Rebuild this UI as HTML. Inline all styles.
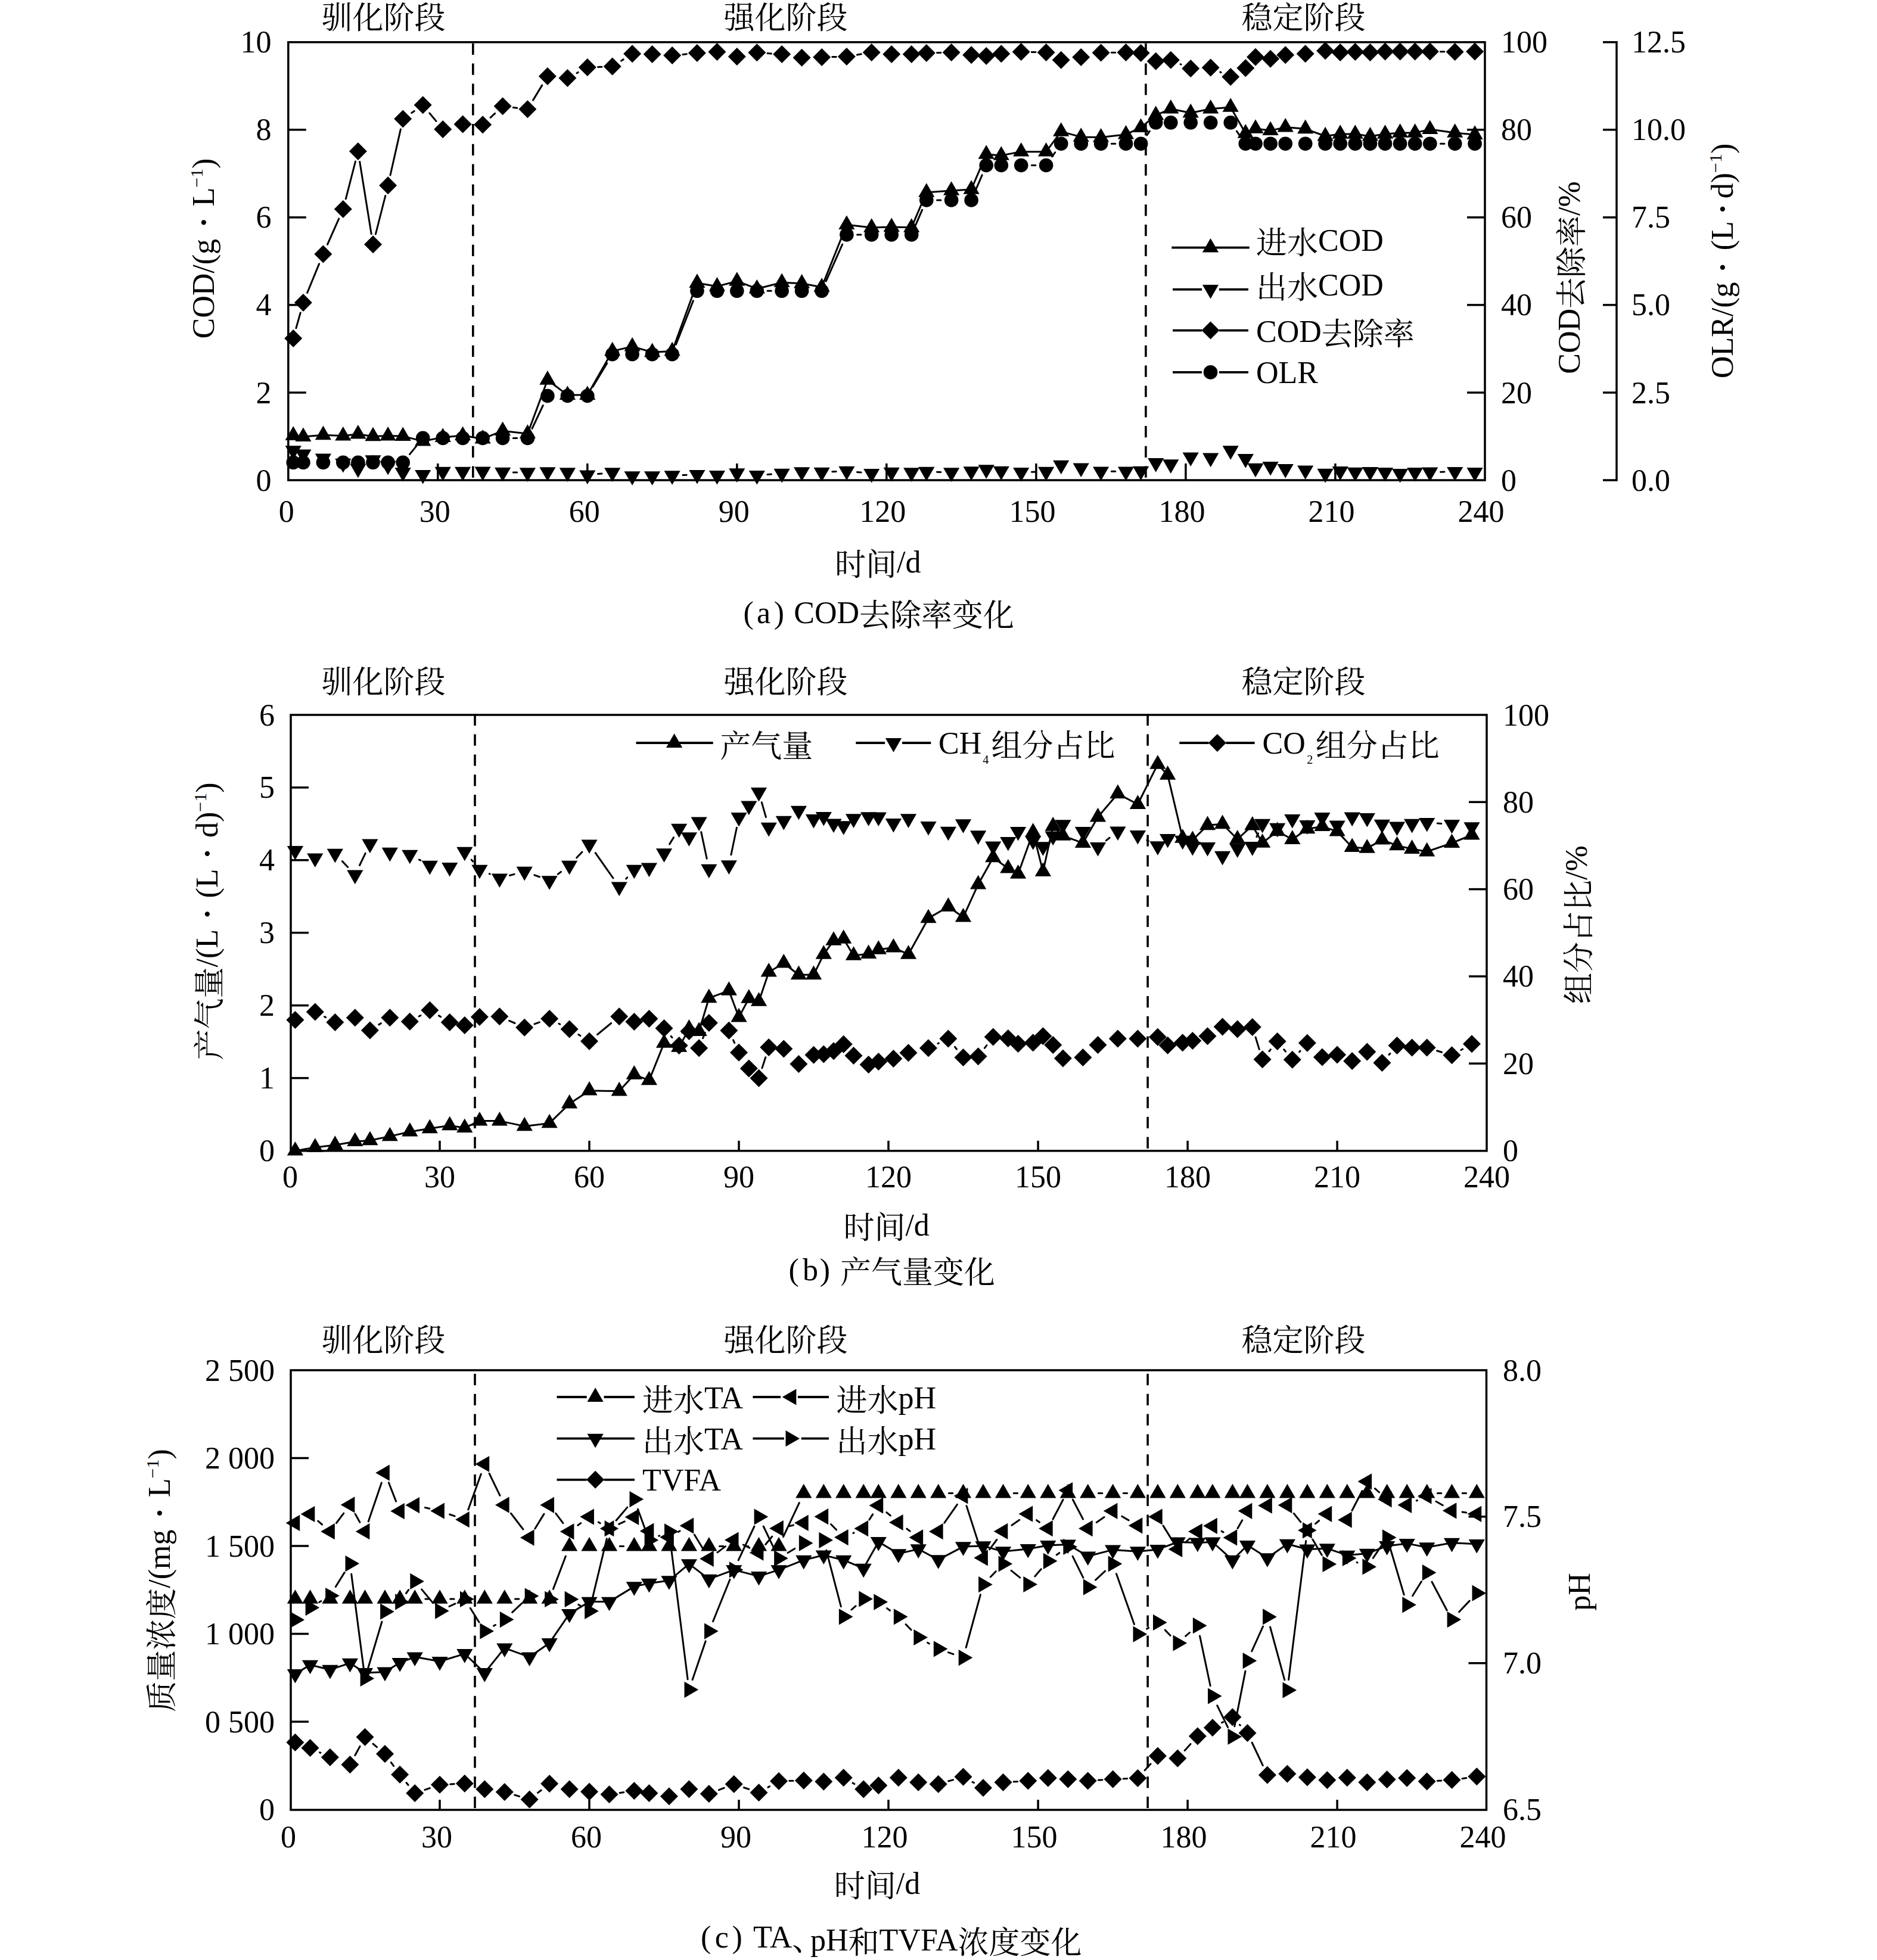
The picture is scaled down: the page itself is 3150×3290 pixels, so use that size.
<!DOCTYPE html>
<html><head><meta charset="utf-8"><title>chart</title><style>html,body{margin:0;padding:0;background:#fff;}svg{display:block;}</style></head><body>
<svg width="3150" height="3290" viewBox="0 0 3150 3290" font-family="'Liberation Serif','Noto Serif CJK SC',serif">
<rect width="3150" height="3290" fill="#fff"/>
<line x1="793.8" y1="72.8" x2="793.8" y2="806" stroke="#000" stroke-width="3.6" stroke-dasharray="19.2 14.6"/>
<line x1="1922.9" y1="72.8" x2="1922.9" y2="806" stroke="#000" stroke-width="3.6" stroke-dasharray="19.2 14.6"/>
<line x1="734.8" y1="806" x2="734.8" y2="778" stroke="#000" stroke-width="3.5"/>
<line x1="985.8" y1="806" x2="985.8" y2="778" stroke="#000" stroke-width="3.5"/>
<line x1="1236.8" y1="806" x2="1236.8" y2="778" stroke="#000" stroke-width="3.5"/>
<line x1="1487.8" y1="806" x2="1487.8" y2="778" stroke="#000" stroke-width="3.5"/>
<line x1="1738.9" y1="806" x2="1738.9" y2="778" stroke="#000" stroke-width="3.5"/>
<line x1="1989.9" y1="806" x2="1989.9" y2="778" stroke="#000" stroke-width="3.5"/>
<line x1="2240.9" y1="806" x2="2240.9" y2="778" stroke="#000" stroke-width="3.5"/>
<text x="480.8" y="875.7" text-anchor="middle" font-size="52">0</text>
<text x="729.8" y="875.7" text-anchor="middle" font-size="52">30</text>
<text x="980.8" y="875.7" text-anchor="middle" font-size="52">60</text>
<text x="1231.8" y="875.7" text-anchor="middle" font-size="52">90</text>
<text x="1481.3" y="875.7" text-anchor="middle" font-size="52">120</text>
<text x="1732.4" y="875.7" text-anchor="middle" font-size="52">150</text>
<text x="1983.4" y="875.7" text-anchor="middle" font-size="52">180</text>
<text x="2234.4" y="875.7" text-anchor="middle" font-size="52">210</text>
<text x="2485.4" y="875.7" text-anchor="middle" font-size="52">240</text>
<text x="455.5" y="823.5" text-anchor="end" font-size="52">0</text>
<line x1="483.8" y1="659" x2="513.8" y2="659" stroke="#000" stroke-width="3.5"/>
<text x="455.5" y="676.5" text-anchor="end" font-size="52">2</text>
<line x1="483.8" y1="511.9" x2="513.8" y2="511.9" stroke="#000" stroke-width="3.5"/>
<text x="455.5" y="529.4" text-anchor="end" font-size="52">4</text>
<line x1="483.8" y1="364.9" x2="513.8" y2="364.9" stroke="#000" stroke-width="3.5"/>
<text x="455.5" y="382.4" text-anchor="end" font-size="52">6</text>
<line x1="483.8" y1="217.8" x2="513.8" y2="217.8" stroke="#000" stroke-width="3.5"/>
<text x="455.5" y="235.3" text-anchor="end" font-size="52">8</text>
<text x="455.5" y="88.3" text-anchor="end" font-size="52">10</text>
<text x="2519" y="823.5" text-anchor="start" font-size="52">0</text>
<line x1="2462" y1="659" x2="2492" y2="659" stroke="#000" stroke-width="3.5"/>
<text x="2519" y="676.5" text-anchor="start" font-size="52">20</text>
<line x1="2462" y1="511.9" x2="2492" y2="511.9" stroke="#000" stroke-width="3.5"/>
<text x="2519" y="529.4" text-anchor="start" font-size="52">40</text>
<line x1="2462" y1="364.9" x2="2492" y2="364.9" stroke="#000" stroke-width="3.5"/>
<text x="2519" y="382.4" text-anchor="start" font-size="52">60</text>
<line x1="2462" y1="217.8" x2="2492" y2="217.8" stroke="#000" stroke-width="3.5"/>
<text x="2519" y="235.3" text-anchor="start" font-size="52">80</text>
<text x="2519" y="88.3" text-anchor="start" font-size="52">100</text>
<rect x="483.8" y="70.8" width="2008.2" height="735.2" fill="none" stroke="#000" stroke-width="3.5"/>
<text x="539.6" y="47.6" text-anchor="start" font-size="52">驯化阶段</text>
<text x="1214.6" y="47.6" text-anchor="start" font-size="52">强化阶段</text>
<text x="2083.4" y="47.6" text-anchor="start" font-size="52">稳定阶段</text>
<line x1="797" y1="1198.8" x2="797" y2="1931.8" stroke="#000" stroke-width="3.6" stroke-dasharray="19.2 14.6"/>
<line x1="1926.1" y1="1198.8" x2="1926.1" y2="1931.8" stroke="#000" stroke-width="3.6" stroke-dasharray="19.2 14.6"/>
<line x1="738" y1="1931.8" x2="738" y2="1914.8" stroke="#000" stroke-width="3.5"/>
<line x1="989" y1="1931.8" x2="989" y2="1914.8" stroke="#000" stroke-width="3.5"/>
<line x1="1240" y1="1931.8" x2="1240" y2="1914.8" stroke="#000" stroke-width="3.5"/>
<line x1="1491" y1="1931.8" x2="1491" y2="1914.8" stroke="#000" stroke-width="3.5"/>
<line x1="1742.1" y1="1931.8" x2="1742.1" y2="1914.8" stroke="#000" stroke-width="3.5"/>
<line x1="1993.1" y1="1931.8" x2="1993.1" y2="1914.8" stroke="#000" stroke-width="3.5"/>
<line x1="2244.1" y1="1931.8" x2="2244.1" y2="1914.8" stroke="#000" stroke-width="3.5"/>
<text x="487" y="1993" text-anchor="middle" font-size="52">0</text>
<text x="738" y="1993" text-anchor="middle" font-size="52">30</text>
<text x="989" y="1993" text-anchor="middle" font-size="52">60</text>
<text x="1240" y="1993" text-anchor="middle" font-size="52">90</text>
<text x="1491" y="1993" text-anchor="middle" font-size="52">120</text>
<text x="1742.1" y="1993" text-anchor="middle" font-size="52">150</text>
<text x="1993.1" y="1993" text-anchor="middle" font-size="52">180</text>
<text x="2244.1" y="1993" text-anchor="middle" font-size="52">210</text>
<text x="2495.1" y="1993" text-anchor="middle" font-size="52">240</text>
<text x="461" y="1949" text-anchor="end" font-size="52">0</text>
<line x1="488" y1="1809.6" x2="518" y2="1809.6" stroke="#000" stroke-width="3.5"/>
<text x="461" y="1827.1" text-anchor="end" font-size="52">1</text>
<line x1="488" y1="1687.7" x2="518" y2="1687.7" stroke="#000" stroke-width="3.5"/>
<text x="461" y="1705.2" text-anchor="end" font-size="52">2</text>
<line x1="488" y1="1565.7" x2="518" y2="1565.7" stroke="#000" stroke-width="3.5"/>
<text x="461" y="1583.2" text-anchor="end" font-size="52">3</text>
<line x1="488" y1="1443.8" x2="518" y2="1443.8" stroke="#000" stroke-width="3.5"/>
<text x="461" y="1461.3" text-anchor="end" font-size="52">4</text>
<line x1="488" y1="1321.9" x2="518" y2="1321.9" stroke="#000" stroke-width="3.5"/>
<text x="461" y="1339.4" text-anchor="end" font-size="52">5</text>
<text x="461" y="1217.5" text-anchor="end" font-size="52">6</text>
<text x="2522" y="1949" text-anchor="start" font-size="52">0</text>
<line x1="2465" y1="1785.2" x2="2495" y2="1785.2" stroke="#000" stroke-width="3.5"/>
<text x="2522" y="1802.7" text-anchor="start" font-size="52">20</text>
<line x1="2465" y1="1638.9" x2="2495" y2="1638.9" stroke="#000" stroke-width="3.5"/>
<text x="2522" y="1656.4" text-anchor="start" font-size="52">40</text>
<line x1="2465" y1="1492.6" x2="2495" y2="1492.6" stroke="#000" stroke-width="3.5"/>
<text x="2522" y="1510.1" text-anchor="start" font-size="52">60</text>
<line x1="2465" y1="1346.3" x2="2495" y2="1346.3" stroke="#000" stroke-width="3.5"/>
<text x="2522" y="1363.8" text-anchor="start" font-size="52">80</text>
<text x="2522" y="1217.5" text-anchor="start" font-size="52">100</text>
<rect x="488" y="1200" width="2007" height="731.8" fill="none" stroke="#000" stroke-width="3.5"/>
<text x="539.6" y="1163.2" text-anchor="start" font-size="52">驯化阶段</text>
<text x="1214.6" y="1163.2" text-anchor="start" font-size="52">强化阶段</text>
<text x="2083.4" y="1163.2" text-anchor="start" font-size="52">稳定阶段</text>
<line x1="797" y1="2306" x2="797" y2="3038" stroke="#000" stroke-width="3.6" stroke-dasharray="19.2 14.6"/>
<line x1="1926.1" y1="2306" x2="1926.1" y2="3038" stroke="#000" stroke-width="3.6" stroke-dasharray="19.2 14.6"/>
<line x1="738" y1="3038" x2="738" y2="3021" stroke="#000" stroke-width="3.5"/>
<line x1="989" y1="3038" x2="989" y2="3021" stroke="#000" stroke-width="3.5"/>
<line x1="1240" y1="3038" x2="1240" y2="3021" stroke="#000" stroke-width="3.5"/>
<line x1="1491" y1="3038" x2="1491" y2="3021" stroke="#000" stroke-width="3.5"/>
<line x1="1742.1" y1="3038" x2="1742.1" y2="3021" stroke="#000" stroke-width="3.5"/>
<line x1="1993.1" y1="3038" x2="1993.1" y2="3021" stroke="#000" stroke-width="3.5"/>
<line x1="2244.1" y1="3038" x2="2244.1" y2="3021" stroke="#000" stroke-width="3.5"/>
<text x="484" y="3100.5" text-anchor="middle" font-size="52">0</text>
<text x="733" y="3100.5" text-anchor="middle" font-size="52">30</text>
<text x="984" y="3100.5" text-anchor="middle" font-size="52">60</text>
<text x="1235" y="3100.5" text-anchor="middle" font-size="52">90</text>
<text x="1484.5" y="3100.5" text-anchor="middle" font-size="52">120</text>
<text x="1735.6" y="3100.5" text-anchor="middle" font-size="52">150</text>
<text x="1986.6" y="3100.5" text-anchor="middle" font-size="52">180</text>
<text x="2237.6" y="3100.5" text-anchor="middle" font-size="52">210</text>
<text x="2488.6" y="3100.5" text-anchor="middle" font-size="52">240</text>
<text x="461" y="3055" text-anchor="end" font-size="52">0</text>
<line x1="488" y1="2890" x2="518" y2="2890" stroke="#000" stroke-width="3.5"/>
<text x="461" y="2907.5" text-anchor="end" font-size="52">0 500</text>
<line x1="488" y1="2742.5" x2="518" y2="2742.5" stroke="#000" stroke-width="3.5"/>
<text x="461" y="2760" text-anchor="end" font-size="52">1 000</text>
<line x1="488" y1="2595" x2="518" y2="2595" stroke="#000" stroke-width="3.5"/>
<text x="461" y="2612.5" text-anchor="end" font-size="52">1 500</text>
<line x1="488" y1="2447.5" x2="518" y2="2447.5" stroke="#000" stroke-width="3.5"/>
<text x="461" y="2465" text-anchor="end" font-size="52">2 000</text>
<text x="461" y="2317.5" text-anchor="end" font-size="52">2 500</text>
<text x="2522" y="3055" text-anchor="start" font-size="52">6.5</text>
<line x1="2464.5" y1="2791.7" x2="2494.5" y2="2791.7" stroke="#000" stroke-width="3.5"/>
<text x="2522" y="2809.2" text-anchor="start" font-size="52">7.0</text>
<line x1="2464.5" y1="2545.8" x2="2494.5" y2="2545.8" stroke="#000" stroke-width="3.5"/>
<text x="2522" y="2563.3" text-anchor="start" font-size="52">7.5</text>
<text x="2522" y="2317.5" text-anchor="start" font-size="52">8.0</text>
<rect x="488" y="2300" width="2006.5" height="738" fill="none" stroke="#000" stroke-width="3.5"/>
<text x="539.6" y="2267.6" text-anchor="start" font-size="52">驯化阶段</text>
<text x="1214.6" y="2267.6" text-anchor="start" font-size="52">强化阶段</text>
<text x="2083.4" y="2267.6" text-anchor="start" font-size="52">稳定阶段</text>
<line x1="2713" y1="69" x2="2713" y2="807.8" stroke="#000" stroke-width="3.5"/>
<line x1="2690" y1="806" x2="2713" y2="806" stroke="#000" stroke-width="3.5"/>
<text x="2738" y="823.5" text-anchor="start" font-size="52">0.0</text>
<line x1="2690" y1="659" x2="2713" y2="659" stroke="#000" stroke-width="3.5"/>
<text x="2738" y="676.5" text-anchor="start" font-size="52">2.5</text>
<line x1="2690" y1="511.9" x2="2713" y2="511.9" stroke="#000" stroke-width="3.5"/>
<text x="2738" y="529.4" text-anchor="start" font-size="52">5.0</text>
<line x1="2690" y1="364.9" x2="2713" y2="364.9" stroke="#000" stroke-width="3.5"/>
<text x="2738" y="382.4" text-anchor="start" font-size="52">7.5</text>
<line x1="2690" y1="217.8" x2="2713" y2="217.8" stroke="#000" stroke-width="3.5"/>
<text x="2738" y="235.3" text-anchor="start" font-size="52">10.0</text>
<line x1="2690" y1="70.8" x2="2713" y2="70.8" stroke="#000" stroke-width="3.5"/>
<text x="2738" y="88.3" text-anchor="start" font-size="52">12.5</text>
<path d="M492.2 731L508.9 733.1M508.9 733.1L542.4 730.3M542.4 730.3L575.8 731.6M575.8 731.6L600.9 728.7M600.9 728.7L626 732.4M626 732.4L651.1 731.6M651.1 731.6L676.2 732.1M676.2 732.1L709.7 740.6M709.7 740.6L743.2 734M743.2 734L776.6 731.1M776.6 731.1L810.1 736.7M810.1 736.7L843.6 723.2M843.6 723.2L885.4 727.9M885.4 727.9L918.9 637.8M918.9 637.8L952.4 663.1M952.4 663.1L985.8 663.1M985.8 663.1L1027.7 589.4M1027.7 589.4L1061.1 581.6M1061.1 581.6L1094.6 591.3M1094.6 591.3L1128.1 589.4M1128.1 589.4L1169.9 475M1169.9 475L1203.4 480.8M1203.4 480.8L1236.8 471.9M1236.8 471.9L1270.3 484.7M1270.3 484.7L1312.1 474.2M1312.1 474.2L1345.6 475.8M1345.6 475.8L1379.1 481.9M1379.1 481.9L1420.9 377.2M1420.9 377.2L1462.7 381.9M1462.7 381.9L1496.2 381.1M1496.2 381.1L1529.7 381.9M1529.7 381.9L1554.8 322.9M1554.8 322.9L1596.6 319.9M1596.6 319.9L1630.1 317.9M1630.1 317.9L1655.2 258.9M1655.2 258.9L1680.3 260.9M1680.3 260.9L1713.7 254.7M1713.7 254.7L1755.6 254.7M1755.6 254.7L1780.7 220.9M1780.7 220.9L1814.2 229.9M1814.2 229.9L1847.6 230.6M1847.6 230.6L1889.5 225.7M1889.5 225.7L1914.6 214.2M1914.6 214.2L1939.7 193.3M1939.7 193.3L1964.8 182.7M1964.8 182.7L1998.2 189.5M1998.2 189.5L2031.7 182.7M2031.7 182.7L2065.2 179.9M2065.2 179.9L2090.3 223.8M2090.3 223.8L2107 215.9M2107 215.9L2132.1 219.1M2132.1 219.1L2157.2 213.6M2157.2 213.6L2190.7 216.3M2190.7 216.3L2224.1 228.5M2224.1 228.5L2249.2 224.9M2249.2 224.9L2274.3 224.9M2274.3 224.9L2299.4 228.7M2299.4 228.7L2324.5 224.9M2324.5 224.9L2349.6 222.9M2349.6 222.9L2374.7 222.9M2374.7 222.9L2399.8 217.1M2399.8 217.1L2441.7 222.9M2441.7 222.9L2475.1 226" stroke="#000" stroke-width="3.0" fill="none" stroke-linecap="round"/>
<g fill="#000"><polygon points="492.2,715.3 478.6,738.9 505.8,738.9"/><polygon points="508.9,717.4 495.3,741 522.5,741"/><polygon points="542.4,714.6 528.8,738.2 556,738.2"/><polygon points="575.8,715.9 562.2,739.5 589.4,739.5"/><polygon points="600.9,713 587.3,736.6 614.5,736.6"/><polygon points="626,716.7 612.4,740.3 639.6,740.3"/><polygon points="651.1,715.9 637.5,739.5 664.7,739.5"/><polygon points="676.2,716.4 662.6,740 689.8,740"/><polygon points="709.7,724.9 696.1,748.5 723.3,748.5"/><polygon points="743.2,718.3 729.6,741.9 756.8,741.9"/><polygon points="776.6,715.4 763,739 790.2,739"/><polygon points="810.1,721 796.5,744.6 823.7,744.6"/><polygon points="843.6,707.5 830,731.1 857.2,731.1"/><polygon points="885.4,712.2 871.8,735.8 899,735.8"/><polygon points="918.9,622.1 905.3,645.7 932.5,645.7"/><polygon points="952.4,647.4 938.8,671 966,671"/><polygon points="985.8,647.4 972.2,671 999.4,671"/><polygon points="1027.7,573.7 1014.1,597.3 1041.3,597.3"/><polygon points="1061.1,565.9 1047.5,589.5 1074.7,589.5"/><polygon points="1094.6,575.6 1081,599.2 1108.2,599.2"/><polygon points="1128.1,573.7 1114.5,597.3 1141.7,597.3"/><polygon points="1169.9,459.3 1156.3,482.9 1183.5,482.9"/><polygon points="1203.4,465.1 1189.8,488.7 1217,488.7"/><polygon points="1236.8,456.2 1223.2,479.8 1250.4,479.8"/><polygon points="1270.3,469 1256.7,492.6 1283.9,492.6"/><polygon points="1312.1,458.5 1298.5,482.1 1325.7,482.1"/><polygon points="1345.6,460.1 1332,483.7 1359.2,483.7"/><polygon points="1379.1,466.2 1365.5,489.8 1392.7,489.8"/><polygon points="1420.9,361.5 1407.3,385.1 1434.5,385.1"/><polygon points="1462.7,366.2 1449.1,389.8 1476.3,389.8"/><polygon points="1496.2,365.4 1482.6,389 1509.8,389"/><polygon points="1529.7,366.2 1516.1,389.8 1543.3,389.8"/><polygon points="1554.8,307.2 1541.2,330.8 1568.4,330.8"/><polygon points="1596.6,304.2 1583,327.8 1610.2,327.8"/><polygon points="1630.1,302.2 1616.5,325.8 1643.7,325.8"/><polygon points="1655.2,243.2 1641.6,266.8 1668.8,266.8"/><polygon points="1680.3,245.2 1666.7,268.8 1693.9,268.8"/><polygon points="1713.7,239 1700.1,262.6 1727.3,262.6"/><polygon points="1755.6,239 1742,262.6 1769.2,262.6"/><polygon points="1780.7,205.2 1767.1,228.8 1794.3,228.8"/><polygon points="1814.2,214.2 1800.6,237.8 1827.8,237.8"/><polygon points="1847.6,214.9 1834,238.5 1861.2,238.5"/><polygon points="1889.5,210 1875.9,233.6 1903.1,233.6"/><polygon points="1914.6,198.5 1901,222.1 1928.2,222.1"/><polygon points="1939.7,177.6 1926.1,201.2 1953.3,201.2"/><polygon points="1964.8,167 1951.2,190.6 1978.4,190.6"/><polygon points="1998.2,173.8 1984.6,197.4 2011.8,197.4"/><polygon points="2031.7,167 2018.1,190.6 2045.3,190.6"/><polygon points="2065.2,164.2 2051.6,187.8 2078.8,187.8"/><polygon points="2090.3,208.1 2076.7,231.7 2103.9,231.7"/><polygon points="2107,200.2 2093.4,223.8 2120.6,223.8"/><polygon points="2132.1,203.4 2118.5,227 2145.7,227"/><polygon points="2157.2,197.9 2143.6,221.5 2170.8,221.5"/><polygon points="2190.7,200.6 2177.1,224.2 2204.3,224.2"/><polygon points="2224.1,212.8 2210.5,236.4 2237.7,236.4"/><polygon points="2249.2,209.2 2235.6,232.8 2262.8,232.8"/><polygon points="2274.3,209.2 2260.7,232.8 2287.9,232.8"/><polygon points="2299.4,213 2285.8,236.6 2313,236.6"/><polygon points="2324.5,209.2 2310.9,232.8 2338.1,232.8"/><polygon points="2349.6,207.2 2336,230.8 2363.2,230.8"/><polygon points="2374.7,207.2 2361.1,230.8 2388.3,230.8"/><polygon points="2399.8,201.4 2386.2,225 2413.4,225"/><polygon points="2441.7,207.2 2428.1,230.8 2455.3,230.8"/><polygon points="2475.1,210.3 2461.5,233.9 2488.7,233.9"/></g>
<path d="M861.3 792.9L867.7 793M1003.4 795.6L1010 794.9M1145.8 797.5L1152.2 797.3M1287.9 796.5L1294.5 796M1396.7 791.8L1403.2 791.5M1438.5 792.4L1445.1 793.1M1572.5 792.3L1578.9 792.5M1731.4 792.3L1737.9 792.1M1865.3 791.3L1871.8 791.3M2417.5 792.2L2424 792.1" stroke="#000" stroke-width="3.0" fill="none" stroke-linecap="round"/>
<g fill="#000"><polygon points="478.6,748.2 505.8,748.2 492.2,771.8"/><polygon points="495.3,754.6 522.5,754.6 508.9,778.2"/><polygon points="528.8,761.5 556,761.5 542.4,785.1"/><polygon points="562.2,769.8 589.4,769.8 575.8,793.4"/><polygon points="587.3,778.6 614.5,778.6 600.9,802.2"/><polygon points="612.4,764.2 639.6,764.2 626,787.8"/><polygon points="637.5,773.8 664.7,773.8 651.1,797.4"/><polygon points="662.6,785 689.8,785 676.2,808.6"/><polygon points="696.1,789 723.3,789 709.7,812.6"/><polygon points="729.6,783.8 756.8,783.8 743.2,807.4"/><polygon points="763,783.8 790.2,783.8 776.6,807.4"/><polygon points="796.5,783.6 823.7,783.6 810.1,807.2"/><polygon points="830,784.8 857.2,784.8 843.6,808.4"/><polygon points="871.8,785.3 899,785.3 885.4,808.9"/><polygon points="905.3,784.2 932.5,784.2 918.9,807.8"/><polygon points="938.8,785.3 966,785.3 952.4,808.9"/><polygon points="972.2,789.5 999.4,789.5 985.8,813.1"/><polygon points="1014.1,785.3 1041.3,785.3 1027.7,808.9"/><polygon points="1047.5,791.2 1074.7,791.2 1061.1,814.8"/><polygon points="1081,791.2 1108.2,791.2 1094.6,814.8"/><polygon points="1114.5,790.2 1141.7,790.2 1128.1,813.8"/><polygon points="1156.3,788.9 1183.5,788.9 1169.9,812.5"/><polygon points="1189.8,790 1217,790 1203.4,813.6"/><polygon points="1223.2,786.3 1250.4,786.3 1236.8,809.9"/><polygon points="1256.7,790 1283.9,790 1270.3,813.6"/><polygon points="1298.5,786.8 1325.7,786.8 1312.1,810.4"/><polygon points="1332,784.2 1359.2,784.2 1345.6,807.8"/><polygon points="1365.5,784.8 1392.7,784.8 1379.1,808.4"/><polygon points="1407.3,782.7 1434.5,782.7 1420.9,806.3"/><polygon points="1449.1,787 1476.3,787 1462.7,810.6"/><polygon points="1482.6,784.8 1509.8,784.8 1496.2,808.4"/><polygon points="1516.1,785.3 1543.3,785.3 1529.7,808.9"/><polygon points="1541.2,783.8 1568.4,783.8 1554.8,807.4"/><polygon points="1583,785.3 1610.2,785.3 1596.6,808.9"/><polygon points="1616.5,783.2 1643.7,783.2 1630.1,806.8"/><polygon points="1641.6,780.2 1668.8,780.2 1655.2,803.8"/><polygon points="1666.7,782.7 1693.9,782.7 1680.3,806.3"/><polygon points="1700.1,784.9 1727.3,784.9 1713.7,808.5"/><polygon points="1742,783.8 1769.2,783.8 1755.6,807.4"/><polygon points="1767.1,772.7 1794.3,772.7 1780.7,796.3"/><polygon points="1800.6,777.4 1827.8,777.4 1814.2,801"/><polygon points="1834,783.4 1861.2,783.4 1847.6,807"/><polygon points="1875.9,783.4 1903.1,783.4 1889.5,807"/><polygon points="1901,782.7 1928.2,782.7 1914.6,806.3"/><polygon points="1926.1,769.1 1953.3,769.1 1939.7,792.7"/><polygon points="1951.2,771.3 1978.4,771.3 1964.8,794.9"/><polygon points="1984.6,759.5 2011.8,759.5 1998.2,783.1"/><polygon points="2018.1,760.6 2045.3,760.6 2031.7,784.2"/><polygon points="2051.6,748.2 2078.8,748.2 2065.2,771.8"/><polygon points="2076.7,762.1 2103.9,762.1 2090.3,785.7"/><polygon points="2093.4,777.7 2120.6,777.7 2107,801.3"/><polygon points="2118.5,774.9 2145.7,774.9 2132.1,798.5"/><polygon points="2143.6,779.1 2170.8,779.1 2157.2,802.7"/><polygon points="2177.1,781.5 2204.3,781.5 2190.7,805.1"/><polygon points="2210.5,786.8 2237.7,786.8 2224.1,810.4"/><polygon points="2235.6,783 2262.8,783 2249.2,806.6"/><polygon points="2260.7,784.7 2287.9,784.7 2274.3,808.3"/><polygon points="2285.8,783.9 2313,783.9 2299.4,807.5"/><polygon points="2310.9,784.9 2338.1,784.9 2324.5,808.5"/><polygon points="2336,787 2363.2,787 2349.6,810.6"/><polygon points="2361.1,784.9 2388.3,784.9 2374.7,808.5"/><polygon points="2386.2,784.6 2413.4,784.6 2399.8,808.2"/><polygon points="2428.1,783.9 2455.3,783.9 2441.7,807.5"/><polygon points="2461.5,784.9 2488.7,784.9 2475.1,808.5"/></g>
<path d="M496.9 550.9L504.2 525M515.6 491.5L535.6 442.9M549.5 410.3L568.7 367.1M580.3 333.8L596.5 271M603.7 271.4L623.2 392.7M630.4 393L646.8 328.5M655 294L672.4 216.9M690.8 189.5L695.2 186.4M720.9 190L732 203.4M823.1 197.3L830.6 190.3M861.2 180.4L867.8 181.2M894.6 168.1L909.7 143.1M968 122.7L970.2 121.4M1003.5 112.5L1010 112.2M1042.6 102.1L1046.2 99.7M1145.7 91.4L1152.3 90.7M1288 89.4L1294.5 89.9M1396.8 95.6L1403.2 95.4M1438.4 92L1445.3 90.8M1572.5 88.6L1578.9 88.4M1731.4 87.4L1737.9 87.6M1865.3 88.2L1871.8 88.2M1981 107.7L1982 108.1M2047.8 120.9L2049.1 121.6M2417.5 86.7L2424 86.8" stroke="#000" stroke-width="3.0" fill="none" stroke-linecap="round"/>
<g fill="#000"><polygon points="492.2,553 507.2,568 492.2,583 477.2,568"/><polygon points="508.9,492.9 523.9,507.9 508.9,522.9 493.9,507.9"/><polygon points="542.4,411.5 557.4,426.5 542.4,441.5 527.4,426.5"/><polygon points="575.8,335.9 590.8,350.9 575.8,365.9 560.8,350.9"/><polygon points="600.9,238.9 615.9,253.9 600.9,268.9 585.9,253.9"/><polygon points="626,395.2 641,410.2 626,425.2 611,410.2"/><polygon points="651.1,296.3 666.1,311.3 651.1,326.3 636.1,311.3"/><polygon points="676.2,184.6 691.2,199.6 676.2,214.6 661.2,199.6"/><polygon points="709.7,161.3 724.7,176.3 709.7,191.3 694.7,176.3"/><polygon points="743.2,202.1 758.2,217.1 743.2,232.1 728.2,217.1"/><polygon points="776.6,193.5 791.6,208.5 776.6,223.5 761.6,208.5"/><polygon points="810.1,194.3 825.1,209.3 810.1,224.3 795.1,209.3"/><polygon points="843.6,163.3 858.6,178.3 843.6,193.3 828.6,178.3"/><polygon points="885.4,168.3 900.4,183.3 885.4,198.3 870.4,183.3"/><polygon points="918.9,112.9 933.9,127.9 918.9,142.9 903.9,127.9"/><polygon points="952.4,116 967.4,131 952.4,146 937.4,131"/><polygon points="985.8,98.1 1000.8,113.1 985.8,128.1 970.8,113.1"/><polygon points="1027.7,96.6 1042.7,111.6 1027.7,126.6 1012.7,111.6"/><polygon points="1061.1,75.2 1076.1,90.2 1061.1,105.2 1046.1,90.2"/><polygon points="1094.6,76 1109.6,91 1094.6,106 1079.6,91"/><polygon points="1128.1,78 1143.1,93 1128.1,108 1113.1,93"/><polygon points="1169.9,74.1 1184.9,89.1 1169.9,104.1 1154.9,89.1"/><polygon points="1203.4,72.1 1218.4,87.1 1203.4,102.1 1188.4,87.1"/><polygon points="1236.8,79.9 1251.8,94.9 1236.8,109.9 1221.8,94.9"/><polygon points="1270.3,73.3 1285.3,88.3 1270.3,103.3 1255.3,88.3"/><polygon points="1312.1,76 1327.1,91 1312.1,106 1297.1,91"/><polygon points="1345.6,81.8 1360.6,96.8 1345.6,111.8 1330.6,96.8"/><polygon points="1379.1,81.1 1394.1,96.1 1379.1,111.1 1364.1,96.1"/><polygon points="1420.9,79.9 1435.9,94.9 1420.9,109.9 1405.9,94.9"/><polygon points="1462.7,72.9 1477.7,87.9 1462.7,102.9 1447.7,87.9"/><polygon points="1496.2,76 1511.2,91 1496.2,106 1481.2,91"/><polygon points="1529.7,76 1544.7,91 1529.7,106 1514.7,91"/><polygon points="1554.8,74.1 1569.8,89.1 1554.8,104.1 1539.8,89.1"/><polygon points="1596.6,72.9 1611.6,87.9 1596.6,102.9 1581.6,87.9"/><polygon points="1630.1,77.2 1645.1,92.2 1630.1,107.2 1615.1,92.2"/><polygon points="1655.2,79.1 1670.2,94.1 1655.2,109.1 1640.2,94.1"/><polygon points="1680.3,75.2 1695.3,90.2 1680.3,105.2 1665.3,90.2"/><polygon points="1713.7,72.1 1728.7,87.1 1713.7,102.1 1698.7,87.1"/><polygon points="1755.6,72.9 1770.6,87.9 1755.6,102.9 1740.6,87.9"/><polygon points="1780.7,85.7 1795.7,100.7 1780.7,115.7 1765.7,100.7"/><polygon points="1814.2,81.1 1829.2,96.1 1814.2,111.1 1799.2,96.1"/><polygon points="1847.6,73.5 1862.6,88.5 1847.6,103.5 1832.6,88.5"/><polygon points="1889.5,72.9 1904.5,87.9 1889.5,102.9 1874.5,87.9"/><polygon points="1914.6,74.1 1929.6,89.1 1914.6,104.1 1899.6,89.1"/><polygon points="1939.7,87.7 1954.7,102.7 1939.7,117.7 1924.7,102.7"/><polygon points="1964.8,85.7 1979.8,100.7 1964.8,115.7 1949.8,100.7"/><polygon points="1998.2,100.1 2013.2,115.1 1998.2,130.1 1983.2,115.1"/><polygon points="2031.7,98.5 2046.7,113.5 2031.7,128.5 2016.7,113.5"/><polygon points="2065.2,114 2080.2,129 2065.2,144 2050.2,129"/><polygon points="2090.3,99.3 2105.3,114.3 2090.3,129.3 2075.3,114.3"/><polygon points="2107,80.7 2122,95.7 2107,110.7 2092,95.7"/><polygon points="2132.1,83.8 2147.1,98.8 2132.1,113.8 2117.1,98.8"/><polygon points="2157.2,77.2 2172.2,92.2 2157.2,107.2 2142.2,92.2"/><polygon points="2190.7,75.2 2205.7,90.2 2190.7,105.2 2175.7,90.2"/><polygon points="2224.1,70.2 2239.1,85.2 2224.1,100.2 2209.1,85.2"/><polygon points="2249.2,72.9 2264.2,87.9 2249.2,102.9 2234.2,87.9"/><polygon points="2274.3,72.1 2289.3,87.1 2274.3,102.1 2259.3,87.1"/><polygon points="2299.4,72.9 2314.4,87.9 2299.4,102.9 2284.4,87.9"/><polygon points="2324.5,71.4 2339.5,86.4 2324.5,101.4 2309.5,86.4"/><polygon points="2349.6,71.4 2364.6,86.4 2349.6,101.4 2334.6,86.4"/><polygon points="2374.7,71.4 2389.7,86.4 2374.7,101.4 2359.7,86.4"/><polygon points="2399.8,71.4 2414.8,86.4 2399.8,101.4 2384.8,86.4"/><polygon points="2441.7,72.1 2456.7,87.1 2441.7,102.1 2426.7,87.1"/><polygon points="2475.1,71.4 2490.1,86.4 2475.1,101.4 2460.1,86.4"/></g>
<path d="M687.5 762.6L698.5 749.1M861.3 735.4L867.7 735.4M893 719.4L911.3 680.5M994.9 649.3L1018.6 609.9M1134.5 578.2L1163.4 504.8M1288 488.3L1294.4 488.3M1386.2 472.1L1413.7 410.1M1438.6 393.9L1445 393.9M1536.7 377.7L1547.7 352.2M1572.5 336L1578.9 336M1637.1 319.7L1648.2 293.8M1731.4 277.5L1737.9 277.5M1765.7 262.9L1770.6 255.8M1865.3 241.2L1871.8 241.2M1924.8 226.8L1929.4 220.2M2075.4 220.2L2080 226.8M2417.5 241.2L2424 241.2" stroke="#000" stroke-width="3.0" fill="none" stroke-linecap="round"/>
<g fill="#000"><circle cx="492.2" cy="776.3" r="11.8"/><circle cx="508.9" cy="776.3" r="11.8"/><circle cx="542.4" cy="776.3" r="11.8"/><circle cx="575.8" cy="776.3" r="11.8"/><circle cx="600.9" cy="776.3" r="11.8"/><circle cx="626" cy="776.3" r="11.8"/><circle cx="651.1" cy="776.3" r="11.8"/><circle cx="676.2" cy="776.3" r="11.8"/><circle cx="709.7" cy="735.4" r="11.8"/><circle cx="743.2" cy="735.4" r="11.8"/><circle cx="776.6" cy="735.4" r="11.8"/><circle cx="810.1" cy="735.4" r="11.8"/><circle cx="843.6" cy="735.4" r="11.8"/><circle cx="885.4" cy="735.4" r="11.8"/><circle cx="918.9" cy="664.5" r="11.8"/><circle cx="952.4" cy="664.5" r="11.8"/><circle cx="985.8" cy="664.5" r="11.8"/><circle cx="1027.7" cy="594.7" r="11.8"/><circle cx="1061.1" cy="594.7" r="11.8"/><circle cx="1094.6" cy="594.7" r="11.8"/><circle cx="1128.1" cy="594.7" r="11.8"/><circle cx="1169.9" cy="488.3" r="11.8"/><circle cx="1203.4" cy="488.3" r="11.8"/><circle cx="1236.8" cy="488.3" r="11.8"/><circle cx="1270.3" cy="488.3" r="11.8"/><circle cx="1312.1" cy="488.3" r="11.8"/><circle cx="1345.6" cy="488.3" r="11.8"/><circle cx="1379.1" cy="488.3" r="11.8"/><circle cx="1420.9" cy="393.9" r="11.8"/><circle cx="1462.7" cy="393.9" r="11.8"/><circle cx="1496.2" cy="393.9" r="11.8"/><circle cx="1529.7" cy="393.9" r="11.8"/><circle cx="1554.8" cy="336" r="11.8"/><circle cx="1596.6" cy="336" r="11.8"/><circle cx="1630.1" cy="336" r="11.8"/><circle cx="1655.2" cy="277.5" r="11.8"/><circle cx="1680.3" cy="277.5" r="11.8"/><circle cx="1713.7" cy="277.5" r="11.8"/><circle cx="1755.6" cy="277.5" r="11.8"/><circle cx="1780.7" cy="241.2" r="11.8"/><circle cx="1814.2" cy="241.2" r="11.8"/><circle cx="1847.6" cy="241.2" r="11.8"/><circle cx="1889.5" cy="241.2" r="11.8"/><circle cx="1914.6" cy="241.2" r="11.8"/><circle cx="1939.7" cy="205.8" r="11.8"/><circle cx="1964.8" cy="205.8" r="11.8"/><circle cx="1998.2" cy="205.8" r="11.8"/><circle cx="2031.7" cy="205.8" r="11.8"/><circle cx="2065.2" cy="205.8" r="11.8"/><circle cx="2090.3" cy="241.2" r="11.8"/><circle cx="2107" cy="241.2" r="11.8"/><circle cx="2132.1" cy="241.2" r="11.8"/><circle cx="2157.2" cy="241.2" r="11.8"/><circle cx="2190.7" cy="241.2" r="11.8"/><circle cx="2224.1" cy="241.2" r="11.8"/><circle cx="2249.2" cy="241.2" r="11.8"/><circle cx="2274.3" cy="241.2" r="11.8"/><circle cx="2299.4" cy="241.2" r="11.8"/><circle cx="2324.5" cy="241.2" r="11.8"/><circle cx="2349.6" cy="241.2" r="11.8"/><circle cx="2374.7" cy="241.2" r="11.8"/><circle cx="2399.8" cy="241.2" r="11.8"/><circle cx="2441.7" cy="241.2" r="11.8"/><circle cx="2475.1" cy="241.2" r="11.8"/></g>
<path d="M495.4 1931.7L528.8 1925.9M528.8 1925.9L562.3 1922M562.3 1922L595.8 1916.2M595.8 1916.2L620.9 1914.3M620.9 1914.3L654.3 1907.4M654.3 1907.4L687.8 1899.7M687.8 1899.7L721.3 1894.3M721.3 1894.3L754.7 1889.3M754.7 1889.3L779.8 1893.1M779.8 1893.1L804.9 1881.6M804.9 1881.6L838.4 1881.6M838.4 1881.6L880.2 1890.4M880.2 1890.4L922.1 1885.4M922.1 1885.4L955.6 1852.7M955.6 1852.7L989 1830.7M989 1830.7L1039.2 1831.5M1039.2 1831.5L1064.3 1803.8M1064.3 1803.8L1089.4 1813.4M1089.4 1813.4L1114.5 1750.9M1114.5 1750.9L1139.6 1757.9M1139.6 1757.9L1156.4 1726.6M1156.4 1726.6L1173.1 1731.2M1173.1 1731.2L1189.8 1675.3M1189.8 1675.3L1223.3 1662.9M1223.3 1662.9L1240 1707.5M1240 1707.5L1256.8 1675.9M1256.8 1675.9L1273.5 1680.9M1273.5 1680.9L1290.2 1631.7M1290.2 1631.7L1315.3 1616.7M1315.3 1616.7L1340.4 1636.3M1340.4 1636.3L1365.5 1636.3M1365.5 1636.3L1382.3 1601.9M1382.3 1601.9L1399 1578.9M1399 1578.9L1415.7 1575.9M1415.7 1575.9L1432.5 1603.9M1432.5 1603.9L1457.6 1601.1M1457.6 1601.1L1474.3 1593.9M1474.3 1593.9L1499.4 1590.6M1499.4 1590.6L1524.5 1601.9M1524.5 1601.9L1558 1541.4M1558 1541.4L1591.4 1522M1591.4 1522L1616.5 1539.6M1616.5 1539.6L1641.6 1484.5M1641.6 1484.5L1666.7 1439.4M1666.7 1439.4L1691.8 1457.7M1691.8 1457.7L1708.6 1466.9M1708.6 1466.9L1733.7 1397M1733.7 1397L1750.4 1463.1M1750.4 1463.1L1767.2 1386.8M1767.2 1386.8L1783.9 1402.9M1783.9 1402.9L1817.4 1415.1M1817.4 1415.1L1842.5 1371.5M1842.5 1371.5L1875.9 1332.3M1875.9 1332.3L1909.4 1350M1909.4 1350L1942.9 1282.9M1942.9 1282.9L1959.6 1300.8M1959.6 1300.8L1984.7 1406.9M1984.7 1406.9L2001.4 1410.1M2001.4 1410.1L2026.5 1385.3M2026.5 1385.3L2051.6 1383.3M2051.6 1383.3L2076.7 1408.7M2076.7 1408.7L2101.8 1385.7M2101.8 1385.7L2118.6 1414.9M2118.6 1414.9L2143.7 1395.3M2143.7 1395.3L2168.8 1409M2168.8 1409L2193.9 1391.4M2193.9 1391.4L2219 1387.2M2219 1387.2L2244.1 1395.6M2244.1 1395.6L2269.2 1422.2M2269.2 1422.2L2294.3 1423.9M2294.3 1423.9L2319.4 1409.6M2319.4 1409.6L2344.5 1419.4M2344.5 1419.4L2369.6 1425M2369.6 1425L2394.7 1429.5M2394.7 1429.5L2436.5 1415.2M2436.5 1415.2L2470 1401.5" stroke="#000" stroke-width="3.0" fill="none" stroke-linecap="round"/>
<g fill="#000"><polygon points="495.4,1916 481.8,1939.6 509,1939.6"/><polygon points="528.8,1910.2 515.2,1933.8 542.4,1933.8"/><polygon points="562.3,1906.3 548.7,1929.9 575.9,1929.9"/><polygon points="595.8,1900.5 582.2,1924.1 609.4,1924.1"/><polygon points="620.9,1898.6 607.3,1922.2 634.5,1922.2"/><polygon points="654.3,1891.7 640.7,1915.3 667.9,1915.3"/><polygon points="687.8,1884 674.2,1907.6 701.4,1907.6"/><polygon points="721.3,1878.6 707.7,1902.2 734.9,1902.2"/><polygon points="754.7,1873.6 741.1,1897.2 768.3,1897.2"/><polygon points="779.8,1877.4 766.2,1901 793.4,1901"/><polygon points="804.9,1865.9 791.3,1889.5 818.5,1889.5"/><polygon points="838.4,1865.9 824.8,1889.5 852,1889.5"/><polygon points="880.2,1874.7 866.6,1898.3 893.8,1898.3"/><polygon points="922.1,1869.7 908.5,1893.3 935.7,1893.3"/><polygon points="955.6,1837 942,1860.6 969.2,1860.6"/><polygon points="989,1815 975.4,1838.6 1002.6,1838.6"/><polygon points="1039.2,1815.8 1025.6,1839.4 1052.8,1839.4"/><polygon points="1064.3,1788.1 1050.7,1811.7 1077.9,1811.7"/><polygon points="1089.4,1797.7 1075.8,1821.3 1103,1821.3"/><polygon points="1114.5,1735.2 1100.9,1758.8 1128.1,1758.8"/><polygon points="1139.6,1742.2 1126,1765.8 1153.2,1765.8"/><polygon points="1156.4,1710.9 1142.8,1734.5 1170,1734.5"/><polygon points="1173.1,1715.5 1159.5,1739.1 1186.7,1739.1"/><polygon points="1189.8,1659.6 1176.2,1683.2 1203.4,1683.2"/><polygon points="1223.3,1647.2 1209.7,1670.8 1236.9,1670.8"/><polygon points="1240,1691.8 1226.4,1715.4 1253.6,1715.4"/><polygon points="1256.8,1660.2 1243.2,1683.8 1270.4,1683.8"/><polygon points="1273.5,1665.2 1259.9,1688.8 1287.1,1688.8"/><polygon points="1290.2,1616 1276.6,1639.6 1303.8,1639.6"/><polygon points="1315.3,1601 1301.7,1624.6 1328.9,1624.6"/><polygon points="1340.4,1620.6 1326.8,1644.2 1354,1644.2"/><polygon points="1365.5,1620.6 1351.9,1644.2 1379.1,1644.2"/><polygon points="1382.3,1586.2 1368.7,1609.8 1395.9,1609.8"/><polygon points="1399,1563.2 1385.4,1586.8 1412.6,1586.8"/><polygon points="1415.7,1560.2 1402.1,1583.8 1429.3,1583.8"/><polygon points="1432.5,1588.2 1418.9,1611.8 1446.1,1611.8"/><polygon points="1457.6,1585.4 1444,1609 1471.2,1609"/><polygon points="1474.3,1578.2 1460.7,1601.8 1487.9,1601.8"/><polygon points="1499.4,1574.9 1485.8,1598.5 1513,1598.5"/><polygon points="1524.5,1586.2 1510.9,1609.8 1538.1,1609.8"/><polygon points="1558,1525.7 1544.4,1549.3 1571.6,1549.3"/><polygon points="1591.4,1506.3 1577.8,1529.9 1605,1529.9"/><polygon points="1616.5,1523.9 1602.9,1547.5 1630.1,1547.5"/><polygon points="1641.6,1468.8 1628,1492.4 1655.2,1492.4"/><polygon points="1666.7,1423.7 1653.1,1447.3 1680.3,1447.3"/><polygon points="1691.8,1442 1678.2,1465.6 1705.4,1465.6"/><polygon points="1708.6,1451.2 1695,1474.8 1722.2,1474.8"/><polygon points="1733.7,1381.3 1720.1,1404.9 1747.3,1404.9"/><polygon points="1750.4,1447.4 1736.8,1471 1764,1471"/><polygon points="1767.2,1371.1 1753.6,1394.7 1780.8,1394.7"/><polygon points="1783.9,1387.2 1770.3,1410.8 1797.5,1410.8"/><polygon points="1817.4,1399.4 1803.8,1423 1831,1423"/><polygon points="1842.5,1355.8 1828.9,1379.4 1856.1,1379.4"/><polygon points="1875.9,1316.6 1862.3,1340.2 1889.5,1340.2"/><polygon points="1909.4,1334.3 1895.8,1357.9 1923,1357.9"/><polygon points="1942.9,1267.2 1929.3,1290.8 1956.5,1290.8"/><polygon points="1959.6,1285.1 1946,1308.7 1973.2,1308.7"/><polygon points="1984.7,1391.2 1971.1,1414.8 1998.3,1414.8"/><polygon points="2001.4,1394.4 1987.8,1418 2015,1418"/><polygon points="2026.5,1369.6 2012.9,1393.2 2040.1,1393.2"/><polygon points="2051.6,1367.6 2038,1391.2 2065.2,1391.2"/><polygon points="2076.7,1393 2063.1,1416.6 2090.3,1416.6"/><polygon points="2101.8,1370 2088.2,1393.6 2115.4,1393.6"/><polygon points="2118.6,1399.2 2105,1422.8 2132.2,1422.8"/><polygon points="2143.7,1379.6 2130.1,1403.2 2157.3,1403.2"/><polygon points="2168.8,1393.3 2155.2,1416.9 2182.4,1416.9"/><polygon points="2193.9,1375.7 2180.3,1399.3 2207.5,1399.3"/><polygon points="2219,1371.5 2205.4,1395.1 2232.6,1395.1"/><polygon points="2244.1,1379.9 2230.5,1403.5 2257.7,1403.5"/><polygon points="2269.2,1406.5 2255.6,1430.1 2282.8,1430.1"/><polygon points="2294.3,1408.2 2280.7,1431.8 2307.9,1431.8"/><polygon points="2319.4,1393.9 2305.8,1417.5 2333,1417.5"/><polygon points="2344.5,1403.7 2330.9,1427.3 2358.1,1427.3"/><polygon points="2369.6,1409.3 2356,1432.9 2383.2,1432.9"/><polygon points="2394.7,1413.8 2381.1,1437.4 2408.3,1437.4"/><polygon points="2436.5,1399.5 2422.9,1423.1 2450.1,1423.1"/><polygon points="2470,1385.8 2456.4,1409.4 2483.6,1409.4"/></g>
<path d="M574.4 1445.6L583.7 1455.5M603.5 1452.5L613.2 1432.4M703.4 1443L705.7 1444.2M791.2 1443.1L793.6 1446M821.2 1466.7L822.2 1467.1M855.5 1469.5L863.2 1467.4M896.9 1468.8L905.5 1472M936.2 1467.4L941.5 1463.4M967.7 1439.8L976.9 1430.1M999.2 1431.7L1029 1474M1050.8 1475.1L1052.7 1472.9M1123.7 1416.9L1130.5 1405.7M1176.7 1396.6L1186.2 1441.2M1226.9 1434.8L1236.4 1389.2M1278.3 1346.8L1285.4 1371.6M1856.3 1410.9L1862.1 1406.3M1924.9 1410.3L1927.3 1411.6M2108.9 1404.7L2111.5 1398.9M2412.3 1382.1L2418.9 1382.6" stroke="#000" stroke-width="3.0" fill="none" stroke-linecap="round"/>
<g fill="#000"><polygon points="481.8,1420.1 509,1420.1 495.4,1443.7"/><polygon points="515.2,1432.5 542.4,1432.5 528.8,1456.1"/><polygon points="548.7,1424.8 575.9,1424.8 562.3,1448.4"/><polygon points="582.2,1460.6 609.4,1460.6 595.8,1484.2"/><polygon points="607.3,1408.6 634.5,1408.6 620.9,1432.2"/><polygon points="640.7,1422.8 667.9,1422.8 654.3,1446.4"/><polygon points="674.2,1426.7 701.4,1426.7 687.8,1450.3"/><polygon points="707.7,1444.8 734.9,1444.8 721.3,1468.4"/><polygon points="741.1,1447.9 768.3,1447.9 754.7,1471.5"/><polygon points="766.2,1421.7 793.4,1421.7 779.8,1445.3"/><polygon points="791.3,1451.7 818.5,1451.7 804.9,1475.3"/><polygon points="824.8,1466.4 852,1466.4 838.4,1490"/><polygon points="866.6,1454.8 893.8,1454.8 880.2,1478.4"/><polygon points="908.5,1470.2 935.7,1470.2 922.1,1493.8"/><polygon points="942,1444.8 969.2,1444.8 955.6,1468.4"/><polygon points="975.4,1409.4 1002.6,1409.4 989,1433"/><polygon points="1025.6,1480.6 1052.8,1480.6 1039.2,1504.2"/><polygon points="1050.7,1451.7 1077.9,1451.7 1064.3,1475.3"/><polygon points="1075.8,1448.6 1103,1448.6 1089.4,1472.2"/><polygon points="1100.9,1424.2 1128.1,1424.2 1114.5,1447.8"/><polygon points="1126,1382.7 1153.2,1382.7 1139.6,1406.3"/><polygon points="1142.8,1397.2 1170,1397.2 1156.4,1420.8"/><polygon points="1159.5,1371.4 1186.7,1371.4 1173.1,1395"/><polygon points="1176.2,1450.7 1203.4,1450.7 1189.8,1474.3"/><polygon points="1209.7,1444.3 1236.9,1444.3 1223.3,1467.9"/><polygon points="1226.4,1364 1253.6,1364 1240,1387.6"/><polygon points="1243.2,1344.6 1270.4,1344.6 1256.8,1368.2"/><polygon points="1259.9,1321.9 1287.1,1321.9 1273.5,1345.5"/><polygon points="1276.6,1380.8 1303.8,1380.8 1290.2,1404.4"/><polygon points="1301.7,1369.8 1328.9,1369.8 1315.3,1393.4"/><polygon points="1326.8,1352.7 1354,1352.7 1340.4,1376.3"/><polygon points="1351.9,1367 1379.1,1367 1365.5,1390.6"/><polygon points="1368.7,1362.9 1395.9,1362.9 1382.3,1386.5"/><polygon points="1385.4,1374.4 1412.6,1374.4 1399,1398"/><polygon points="1402.1,1378.2 1429.3,1378.2 1415.7,1401.8"/><polygon points="1418.9,1366.3 1446.1,1366.3 1432.5,1389.9"/><polygon points="1444,1363.2 1471.2,1363.2 1457.6,1386.8"/><polygon points="1460.7,1363.5 1487.9,1363.5 1474.3,1387.1"/><polygon points="1485.8,1373.9 1513,1373.9 1499.4,1397.5"/><polygon points="1510.9,1366.3 1538.1,1366.3 1524.5,1389.9"/><polygon points="1544.4,1379 1571.6,1379 1558,1402.6"/><polygon points="1577.8,1387.7 1605,1387.7 1591.4,1411.3"/><polygon points="1602.9,1375.2 1630.1,1375.2 1616.5,1398.8"/><polygon points="1628,1394.3 1655.2,1394.3 1641.6,1417.9"/><polygon points="1653.1,1412.4 1680.3,1412.4 1666.7,1436"/><polygon points="1678.2,1405 1705.4,1405 1691.8,1428.6"/><polygon points="1695,1387.9 1722.2,1387.9 1708.6,1411.5"/><polygon points="1720.1,1403.2 1747.3,1403.2 1733.7,1426.8"/><polygon points="1736.8,1413.2 1764,1413.2 1750.4,1436.8"/><polygon points="1753.6,1395.6 1780.8,1395.6 1767.2,1419.2"/><polygon points="1770.3,1376.2 1797.5,1376.2 1783.9,1399.8"/><polygon points="1803.8,1387.9 1831,1387.9 1817.4,1411.5"/><polygon points="1828.9,1414 1856.1,1414 1842.5,1437.6"/><polygon points="1862.3,1387.4 1889.5,1387.4 1875.9,1411"/><polygon points="1895.8,1393.9 1923,1393.9 1909.4,1417.5"/><polygon points="1929.3,1412.2 1956.5,1412.2 1942.9,1435.8"/><polygon points="1946,1399.9 1973.2,1399.9 1959.6,1423.5"/><polygon points="1971.1,1402.7 1998.3,1402.7 1984.7,1426.3"/><polygon points="1987.8,1413 2015,1413 2001.4,1436.6"/><polygon points="2012.9,1413.9 2040.1,1413.9 2026.5,1437.5"/><polygon points="2038,1428.8 2065.2,1428.8 2051.6,1452.4"/><polygon points="2063.1,1416.3 2090.3,1416.3 2076.7,1439.9"/><polygon points="2088.2,1413.1 2115.4,1413.1 2101.8,1436.7"/><polygon points="2105,1374.8 2132.2,1374.8 2118.6,1398.4"/><polygon points="2130.1,1381.8 2157.3,1381.8 2143.7,1405.4"/><polygon points="2155.2,1367 2182.4,1367 2168.8,1390.6"/><polygon points="2180.3,1377.1 2207.5,1377.1 2193.9,1400.7"/><polygon points="2205.4,1363.9 2232.6,1363.9 2219,1387.5"/><polygon points="2230.5,1377.4 2257.7,1377.4 2244.1,1401"/><polygon points="2255.6,1363.6 2282.8,1363.6 2269.2,1387.2"/><polygon points="2280.7,1365 2307.9,1365 2294.3,1388.6"/><polygon points="2305.8,1375.7 2333,1375.7 2319.4,1399.3"/><polygon points="2330.9,1379.6 2358.1,1379.6 2344.5,1403.2"/><polygon points="2356,1374.8 2383.2,1374.8 2369.6,1398.4"/><polygon points="2381.1,1372.9 2408.3,1372.9 2394.7,1396.5"/><polygon points="2422.9,1376 2450.1,1376 2436.5,1399.6"/><polygon points="2456.4,1380.2 2483.6,1380.2 2470,1403.8"/></g>
<path d="M544.5 1706.7L546.6 1707.7M635.8 1719.9L639.4 1717.7M703.2 1706L705.9 1704.5M736.4 1704.9L739.6 1706.8M854.6 1713.4L864.1 1717.5M897 1718.9L905.4 1715.9M937.8 1718.2L939.8 1719.3M970.7 1736.6L973.9 1738.6M1002.6 1736.5L1025.6 1717.5M1126.1 1739.4L1128 1741.6M1179.6 1742.8L1183.3 1733.5M1230.6 1745.9L1232.7 1750.7M1278.9 1792.9L1284.8 1774.7M1574 1751.6L1575.4 1751M1602.5 1757.3L1605.5 1761.1M1652.4 1759.2L1655.9 1754.6M2107.1 1741L2113.3 1761.4M2129.9 1764.7L2132.4 1761.6M2154.8 1761.7L2157.6 1765.1M2180.6 1765.6L2182.1 1764M2331 1770.5L2332.9 1768.4M2411.6 1763.7L2419.6 1766.2M2451.9 1762.5L2454.6 1761" stroke="#000" stroke-width="3.0" fill="none" stroke-linecap="round"/>
<g fill="#000"><polygon points="495.4,1697 510.4,1712 495.4,1727 480.4,1712"/><polygon points="528.8,1683.5 543.8,1698.5 528.8,1713.5 513.8,1698.5"/><polygon points="562.3,1700.9 577.3,1715.9 562.3,1730.9 547.3,1715.9"/><polygon points="595.8,1693.2 610.8,1708.2 595.8,1723.2 580.8,1708.2"/><polygon points="620.9,1714.4 635.9,1729.4 620.9,1744.4 605.9,1729.4"/><polygon points="654.3,1693.2 669.3,1708.2 654.3,1723.2 639.3,1708.2"/><polygon points="687.8,1699.7 702.8,1714.7 687.8,1729.7 672.8,1714.7"/><polygon points="721.3,1680.8 736.3,1695.8 721.3,1710.8 706.3,1695.8"/><polygon points="754.7,1700.9 769.7,1715.9 754.7,1730.9 739.7,1715.9"/><polygon points="779.8,1705.9 794.8,1720.9 779.8,1735.9 764.8,1720.9"/><polygon points="804.9,1692 819.9,1707 804.9,1722 789.9,1707"/><polygon points="838.4,1691.2 853.4,1706.2 838.4,1721.2 823.4,1706.2"/><polygon points="880.2,1709.7 895.2,1724.7 880.2,1739.7 865.2,1724.7"/><polygon points="922.1,1695.1 937.1,1710.1 922.1,1725.1 907.1,1710.1"/><polygon points="955.6,1712.4 970.6,1727.4 955.6,1742.4 940.6,1727.4"/><polygon points="989,1732.8 1004,1747.8 989,1762.8 974,1747.8"/><polygon points="1039.2,1691.2 1054.2,1706.2 1039.2,1721.2 1024.2,1706.2"/><polygon points="1064.3,1700.1 1079.3,1715.1 1064.3,1730.1 1049.3,1715.1"/><polygon points="1089.4,1695.1 1104.4,1710.1 1089.4,1725.1 1074.4,1710.1"/><polygon points="1114.5,1711 1129.5,1726 1114.5,1741 1099.5,1726"/><polygon points="1139.6,1740 1154.6,1755 1139.6,1770 1124.6,1755"/><polygon points="1156.4,1716.1 1171.4,1731.1 1156.4,1746.1 1141.4,1731.1"/><polygon points="1173.1,1744.2 1188.1,1759.2 1173.1,1774.2 1158.1,1759.2"/><polygon points="1189.8,1702.1 1204.8,1717.1 1189.8,1732.1 1174.8,1717.1"/><polygon points="1223.3,1714.8 1238.3,1729.8 1223.3,1744.8 1208.3,1729.8"/><polygon points="1240,1751.8 1255,1766.8 1240,1781.8 1225,1766.8"/><polygon points="1256.8,1778.6 1271.8,1793.6 1256.8,1808.6 1241.8,1793.6"/><polygon points="1273.5,1794.7 1288.5,1809.7 1273.5,1824.7 1258.5,1809.7"/><polygon points="1290.2,1742.9 1305.2,1757.9 1290.2,1772.9 1275.2,1757.9"/><polygon points="1315.3,1745.5 1330.3,1760.5 1315.3,1775.5 1300.3,1760.5"/><polygon points="1340.4,1771 1355.4,1786 1340.4,1801 1325.4,1786"/><polygon points="1365.5,1755.7 1380.5,1770.7 1365.5,1785.7 1350.5,1770.7"/><polygon points="1382.3,1754.4 1397.3,1769.4 1382.3,1784.4 1367.3,1769.4"/><polygon points="1399,1749.3 1414,1764.3 1399,1779.3 1384,1764.3"/><polygon points="1415.7,1737.8 1430.7,1752.8 1415.7,1767.8 1400.7,1752.8"/><polygon points="1432.5,1756.9 1447.5,1771.9 1432.5,1786.9 1417.5,1771.9"/><polygon points="1457.6,1772 1472.6,1787 1457.6,1802 1442.6,1787"/><polygon points="1474.3,1767.1 1489.3,1782.1 1474.3,1797.1 1459.3,1782.1"/><polygon points="1499.4,1762 1514.4,1777 1499.4,1792 1484.4,1777"/><polygon points="1524.5,1752.3 1539.5,1767.3 1524.5,1782.3 1509.5,1767.3"/><polygon points="1558,1744.2 1573,1759.2 1558,1774.2 1543,1759.2"/><polygon points="1591.4,1728.4 1606.4,1743.4 1591.4,1758.4 1576.4,1743.4"/><polygon points="1616.5,1760 1631.5,1775 1616.5,1790 1601.5,1775"/><polygon points="1641.6,1758.2 1656.6,1773.2 1641.6,1788.2 1626.6,1773.2"/><polygon points="1666.7,1725.6 1681.7,1740.6 1666.7,1755.6 1651.7,1740.6"/><polygon points="1691.8,1728.1 1706.8,1743.1 1691.8,1758.1 1676.8,1743.1"/><polygon points="1708.6,1737 1723.6,1752 1708.6,1767 1693.6,1752"/><polygon points="1733.7,1735.3 1748.7,1750.3 1733.7,1765.3 1718.7,1750.3"/><polygon points="1750.4,1724.3 1765.4,1739.3 1750.4,1754.3 1735.4,1739.3"/><polygon points="1767.2,1739.1 1782.2,1754.1 1767.2,1769.1 1752.2,1754.1"/><polygon points="1783.9,1761.5 1798.9,1776.5 1783.9,1791.5 1768.9,1776.5"/><polygon points="1817.4,1760 1832.4,1775 1817.4,1790 1802.4,1775"/><polygon points="1842.5,1739.1 1857.5,1754.1 1842.5,1769.1 1827.5,1754.1"/><polygon points="1875.9,1728.4 1890.9,1743.4 1875.9,1758.4 1860.9,1743.4"/><polygon points="1909.4,1728.4 1924.4,1743.4 1909.4,1758.4 1894.4,1743.4"/><polygon points="1942.9,1725.8 1957.9,1740.8 1942.9,1755.8 1927.9,1740.8"/><polygon points="1959.6,1739.8 1974.6,1754.8 1959.6,1769.8 1944.6,1754.8"/><polygon points="1984.7,1735.3 1999.7,1750.3 1984.7,1765.3 1969.7,1750.3"/><polygon points="2001.4,1732 2016.4,1747 2001.4,1762 1986.4,1747"/><polygon points="2026.5,1724.3 2041.5,1739.3 2026.5,1754.3 2011.5,1739.3"/><polygon points="2051.6,1708.5 2066.6,1723.5 2051.6,1738.5 2036.6,1723.5"/><polygon points="2076.7,1712.5 2091.7,1727.5 2076.7,1742.5 2061.7,1727.5"/><polygon points="2101.8,1709.1 2116.8,1724.1 2101.8,1739.1 2086.8,1724.1"/><polygon points="2118.6,1763.3 2133.6,1778.3 2118.6,1793.3 2103.6,1778.3"/><polygon points="2143.7,1733 2158.7,1748 2143.7,1763 2128.7,1748"/><polygon points="2168.8,1763.8 2183.8,1778.8 2168.8,1793.8 2153.8,1778.8"/><polygon points="2193.9,1735.8 2208.9,1750.8 2193.9,1765.8 2178.9,1750.8"/><polygon points="2219,1759.6 2234,1774.6 2219,1789.6 2204,1774.6"/><polygon points="2244.1,1755.4 2259.1,1770.4 2244.1,1785.4 2229.1,1770.4"/><polygon points="2269.2,1766.1 2284.2,1781.1 2269.2,1796.1 2254.2,1781.1"/><polygon points="2294.3,1750.6 2309.3,1765.6 2294.3,1780.6 2279.3,1765.6"/><polygon points="2319.4,1768.9 2334.4,1783.9 2319.4,1798.9 2304.4,1783.9"/><polygon points="2344.5,1740 2359.5,1755 2344.5,1770 2329.5,1755"/><polygon points="2369.6,1743.6 2384.6,1758.6 2369.6,1773.6 2354.6,1758.6"/><polygon points="2394.7,1743.6 2409.7,1758.6 2394.7,1773.6 2379.7,1758.6"/><polygon points="2436.5,1756.3 2451.5,1771.3 2436.5,1786.3 2421.5,1771.3"/><polygon points="2470,1737.2 2485,1752.2 2470,1767.2 2455,1752.2"/></g>
<path d="M713.9 2683.9L720.3 2683.9M755.7 2683.9L762.1 2683.9M864.5 2683.9L870.9 2683.9M928.4 2667.4L949.3 2612.2M1040.2 2595.6L1046.6 2595.6M1207.5 2595.6L1214 2595.6M1249.4 2595.6L1255.8 2595.6M1314.5 2579.6L1341.3 2522.6M1592.4 2506.5L1598.8 2506.5M1701.2 2506.5L1707.6 2506.5M1843.4 2506.5L1849.9 2506.5M1885.3 2506.5L1891.7 2506.5M2412.4 2506.5L2418.8 2506.5M2454.2 2506.5L2460.6 2506.5" stroke="#000" stroke-width="3.0" fill="none" stroke-linecap="round"/>
<g fill="#000"><polygon points="495.4,2668.2 481.8,2691.8 509,2691.8"/><polygon points="520.5,2668.2 506.9,2691.8 534.1,2691.8"/><polygon points="553.9,2668.2 540.3,2691.8 567.5,2691.8"/><polygon points="587.4,2668.2 573.8,2691.8 601,2691.8"/><polygon points="612.5,2668.2 598.9,2691.8 626.1,2691.8"/><polygon points="646,2668.2 632.4,2691.8 659.6,2691.8"/><polygon points="671.1,2668.2 657.5,2691.8 684.7,2691.8"/><polygon points="696.2,2668.2 682.6,2691.8 709.8,2691.8"/><polygon points="738,2668.2 724.4,2691.8 751.6,2691.8"/><polygon points="779.8,2668.2 766.2,2691.8 793.4,2691.8"/><polygon points="813.3,2668.2 799.7,2691.8 826.9,2691.8"/><polygon points="846.8,2668.2 833.2,2691.8 860.4,2691.8"/><polygon points="888.6,2668.2 875,2691.8 902.2,2691.8"/><polygon points="922.1,2668.2 908.5,2691.8 935.7,2691.8"/><polygon points="955.6,2579.9 942,2603.5 969.2,2603.5"/><polygon points="989,2579.9 975.4,2603.5 1002.6,2603.5"/><polygon points="1022.5,2579.9 1008.9,2603.5 1036.1,2603.5"/><polygon points="1064.3,2579.9 1050.7,2603.5 1077.9,2603.5"/><polygon points="1089.4,2579.9 1075.8,2603.5 1103,2603.5"/><polygon points="1122.9,2579.9 1109.3,2603.5 1136.5,2603.5"/><polygon points="1156.4,2579.9 1142.8,2603.5 1170,2603.5"/><polygon points="1189.8,2579.9 1176.2,2603.5 1203.4,2603.5"/><polygon points="1231.7,2579.9 1218.1,2603.5 1245.3,2603.5"/><polygon points="1273.5,2579.9 1259.9,2603.5 1287.1,2603.5"/><polygon points="1307,2579.9 1293.4,2603.5 1320.6,2603.5"/><polygon points="1348.8,2490.8 1335.2,2514.4 1362.4,2514.4"/><polygon points="1382.3,2490.8 1368.7,2514.4 1395.9,2514.4"/><polygon points="1415.7,2490.8 1402.1,2514.4 1429.3,2514.4"/><polygon points="1449.2,2490.8 1435.6,2514.4 1462.8,2514.4"/><polygon points="1474.3,2490.8 1460.7,2514.4 1487.9,2514.4"/><polygon points="1507.8,2490.8 1494.2,2514.4 1521.4,2514.4"/><polygon points="1541.2,2490.8 1527.6,2514.4 1554.8,2514.4"/><polygon points="1574.7,2490.8 1561.1,2514.4 1588.3,2514.4"/><polygon points="1616.5,2490.8 1602.9,2514.4 1630.1,2514.4"/><polygon points="1650,2490.8 1636.4,2514.4 1663.6,2514.4"/><polygon points="1683.5,2490.8 1669.9,2514.4 1697.1,2514.4"/><polygon points="1725.3,2490.8 1711.7,2514.4 1738.9,2514.4"/><polygon points="1758.8,2490.8 1745.2,2514.4 1772.4,2514.4"/><polygon points="1792.3,2490.8 1778.7,2514.4 1805.9,2514.4"/><polygon points="1825.7,2490.8 1812.1,2514.4 1839.3,2514.4"/><polygon points="1867.6,2490.8 1854,2514.4 1881.2,2514.4"/><polygon points="1909.4,2490.8 1895.8,2514.4 1923,2514.4"/><polygon points="1942.9,2490.8 1929.3,2514.4 1956.5,2514.4"/><polygon points="1976.3,2490.8 1962.7,2514.4 1989.9,2514.4"/><polygon points="2009.8,2490.8 1996.2,2514.4 2023.4,2514.4"/><polygon points="2034.9,2490.8 2021.3,2514.4 2048.5,2514.4"/><polygon points="2068.4,2490.8 2054.8,2514.4 2082,2514.4"/><polygon points="2093.5,2490.8 2079.9,2514.4 2107.1,2514.4"/><polygon points="2126.9,2490.8 2113.3,2514.4 2140.5,2514.4"/><polygon points="2160.4,2490.8 2146.8,2514.4 2174,2514.4"/><polygon points="2193.9,2490.8 2180.3,2514.4 2207.5,2514.4"/><polygon points="2227.3,2490.8 2213.7,2514.4 2240.9,2514.4"/><polygon points="2260.8,2490.8 2247.2,2514.4 2274.4,2514.4"/><polygon points="2294.3,2490.8 2280.7,2514.4 2307.9,2514.4"/><polygon points="2327.7,2490.8 2314.1,2514.4 2341.3,2514.4"/><polygon points="2361.2,2490.8 2347.6,2514.4 2374.8,2514.4"/><polygon points="2394.7,2490.8 2381.1,2514.4 2408.3,2514.4"/><polygon points="2436.5,2490.8 2422.9,2514.4 2450.1,2514.4"/><polygon points="2478.3,2490.8 2464.7,2514.4 2491.9,2514.4"/></g>
<path d="M533.8 2553.1L540.6 2559.1M564.5 2556.5L576.8 2540.1M596.1 2541.3L603.9 2555.3M618.2 2553.9L640.3 2489M652.4 2488.7L664.6 2520.1M713.4 2530.6L720.8 2532.2M754.7 2542L763.1 2544.9M785.8 2534L807.3 2474.2M821.1 2473.4L839 2510.3M857.5 2540.3L877.9 2567M897.8 2566L912.9 2541.4M932.7 2540.4L944.9 2556.7M969.8 2560.3L974.8 2556.6M1004.3 2555L1007.2 2556.8M1038.6 2558.3L1048.2 2553.9M1138.2 2571.5L1141 2569.8M1165.5 2576.2L1180.7 2601.3M1204 2605.9L1217.5 2595.6M1247.5 2593L1257.7 2598.2M1284.7 2592.5L1295.7 2579.2M1324.3 2561.7L1331.5 2560.1M1394.5 2558.5L1403.5 2567.8M1431.9 2573.4L1433 2572.9M1458.9 2550.9L1464.7 2541.9M1487.8 2538.6L1494.3 2544M1521.9 2566.2L1527.1 2570.1M1584.9 2556.2L1606.4 2525.4M1622 2527.7L1644.6 2598.1M1660.7 2600.8L1672.8 2584.5M1698 2560.3L1710.8 2551.3M1739.6 2551.7L1744.5 2555.2M1767 2550L1784.1 2517.3M1800.4 2517.3L1817.5 2550M1840.2 2555.5L1853.1 2546.5M1882.8 2545.2L1894.1 2551.9M1925.6 2553.6L1926.7 2553.2M1952.1 2561.1L1967.1 2585.4M1989.6 2588.8L1996.6 2582.5M2050.2 2570.2L2053.1 2572M2077 2565.5L2084.8 2551.7M2171.4 2540.5L2182.9 2554.9M2207.5 2557.6L2213.7 2552.5M2269 2535.5L2286.1 2502.5M2307.5 2498.6L2314.6 2505M2377.3 2519L2378.5 2518.5M2409.9 2520.2L2421.3 2526.8M2454.1 2538.1L2460.8 2539" stroke="#000" stroke-width="3.0" fill="none" stroke-linecap="round"/>
<g fill="#000"><polygon points="479.6,2556.4 503.2,2542.8 503.2,2570"/><polygon points="504.7,2541.5 528.3,2527.9 528.3,2555.1"/><polygon points="538.2,2570.7 561.8,2557.1 561.8,2584.3"/><polygon points="571.7,2525.9 595.3,2512.3 595.3,2539.5"/><polygon points="596.8,2570.7 620.4,2557.1 620.4,2584.3"/><polygon points="630.2,2472.2 653.8,2458.6 653.8,2485.8"/><polygon points="655.3,2536.6 678.9,2523 678.9,2550.2"/><polygon points="680.4,2526.6 704,2513 704,2540.2"/><polygon points="722.3,2536.2 745.9,2522.6 745.9,2549.8"/><polygon points="764.1,2550.7 787.7,2537.1 787.7,2564.3"/><polygon points="797.6,2457.5 821.2,2443.9 821.2,2471.1"/><polygon points="831,2526.2 854.6,2512.6 854.6,2539.8"/><polygon points="872.9,2581.1 896.5,2567.5 896.5,2594.7"/><polygon points="906.4,2526.3 930,2512.7 930,2539.9"/><polygon points="939.8,2570.8 963.4,2557.2 963.4,2584.4"/><polygon points="973.3,2546.1 996.9,2532.5 996.9,2559.7"/><polygon points="1006.8,2565.7 1030.4,2552.1 1030.4,2579.3"/><polygon points="1048.6,2546.5 1072.2,2532.9 1072.2,2560.1"/><polygon points="1073.7,2570 1097.3,2556.4 1097.3,2583.6"/><polygon points="1107.2,2580.3 1130.8,2566.7 1130.8,2593.9"/><polygon points="1140.6,2561 1164.2,2547.4 1164.2,2574.6"/><polygon points="1174.1,2616.5 1197.7,2602.9 1197.7,2630.1"/><polygon points="1215.9,2585 1239.5,2571.4 1239.5,2598.6"/><polygon points="1257.8,2606.2 1281.4,2592.6 1281.4,2619.8"/><polygon points="1291.2,2565.5 1314.8,2551.9 1314.8,2579.1"/><polygon points="1333.1,2556.3 1356.7,2542.7 1356.7,2569.9"/><polygon points="1366.5,2545.7 1390.1,2532.1 1390.1,2559.3"/><polygon points="1400,2580.6 1423.6,2567 1423.6,2594.2"/><polygon points="1433.5,2565.7 1457.1,2552.1 1457.1,2579.3"/><polygon points="1458.6,2527.1 1482.2,2513.5 1482.2,2540.7"/><polygon points="1492,2555.5 1515.6,2541.9 1515.6,2569.1"/><polygon points="1525.5,2580.8 1549.1,2567.2 1549.1,2594.4"/><polygon points="1559,2570.7 1582.6,2557.1 1582.6,2584.3"/><polygon points="1600.8,2510.9 1624.4,2497.3 1624.4,2524.5"/><polygon points="1634.3,2614.9 1657.9,2601.3 1657.9,2628.5"/><polygon points="1667.7,2570.4 1691.3,2556.8 1691.3,2584"/><polygon points="1709.6,2541.2 1733.2,2527.6 1733.2,2554.8"/><polygon points="1743.1,2565.7 1766.7,2552.1 1766.7,2579.3"/><polygon points="1776.5,2501.6 1800.1,2488 1800.1,2515.2"/><polygon points="1810,2565.7 1833.6,2552.1 1833.6,2579.3"/><polygon points="1851.8,2536.3 1875.4,2522.7 1875.4,2549.9"/><polygon points="1893.7,2560.8 1917.3,2547.2 1917.3,2574.4"/><polygon points="1927.1,2546 1950.7,2532.4 1950.7,2559.6"/><polygon points="1960.6,2600.5 1984.2,2586.9 1984.2,2614.1"/><polygon points="1994.1,2570.8 2017.7,2557.2 2017.7,2584.4"/><polygon points="2019.2,2561.3 2042.8,2547.7 2042.8,2574.9"/><polygon points="2052.6,2580.9 2076.2,2567.3 2076.2,2594.5"/><polygon points="2077.7,2536.3 2101.3,2522.7 2101.3,2549.9"/><polygon points="2111.2,2527.2 2134.8,2513.6 2134.8,2540.8"/><polygon points="2144.7,2526.6 2168.3,2513 2168.3,2540.2"/><polygon points="2178.1,2568.8 2201.7,2555.2 2201.7,2582.4"/><polygon points="2211.6,2541.3 2235.2,2527.7 2235.2,2554.9"/><polygon points="2245.1,2551.2 2268.7,2537.6 2268.7,2564.8"/><polygon points="2278.5,2486.8 2302.1,2473.2 2302.1,2500.4"/><polygon points="2312,2516.8 2335.6,2503.2 2335.6,2530.4"/><polygon points="2345.5,2526.3 2369.1,2512.7 2369.1,2539.9"/><polygon points="2378.9,2511.2 2402.5,2497.6 2402.5,2524.8"/><polygon points="2420.8,2535.8 2444.4,2522.2 2444.4,2549.4"/><polygon points="2462.6,2541.3 2486.2,2527.7 2486.2,2554.9"/></g>
<path d="M495.4 2809.9L520.5 2794.6M520.5 2794.6L553.9 2802.7M553.9 2802.7L587.4 2791.6M587.4 2791.6L612.5 2808M612.5 2808L646 2806.5M646 2806.5L671.1 2790.9M671.1 2790.9L696.2 2781.3M696.2 2781.3L738 2788.8M738 2788.8L779.8 2776M779.8 2776L813.3 2808M813.3 2808L846.8 2766.4M846.8 2766.4L888.6 2781.3M888.6 2781.3L922.1 2757.9M922.1 2757.9L955.6 2708.9M955.6 2708.9L989 2688.6M989 2688.6L1022.5 2688.6M1022.5 2688.6L1064.3 2663.1M1064.3 2663.1L1089.4 2657.7M1089.4 2657.7L1122.9 2653.1M1122.9 2653.1L1156.4 2625.1M1156.4 2625.1L1189.8 2650.6M1189.8 2650.6L1231.7 2635.1M1231.7 2635.1L1273.5 2645.9M1273.5 2645.9L1307 2635.1M1307 2635.1L1348.8 2618.7M1348.8 2618.7L1382.3 2610.4M1382.3 2610.4L1415.7 2618.7M1415.7 2618.7L1449.2 2632.6M1449.2 2632.6L1474.3 2588M1474.3 2588L1507.8 2608.1M1507.8 2608.1L1541.2 2600.2M1541.2 2600.2L1574.7 2618.1M1574.7 2618.1L1616.5 2596.1M1616.5 2596.1L1650 2595.1M1650 2595.1L1683.5 2604.2M1683.5 2604.2L1725.3 2599.9M1725.3 2599.9L1758.8 2594M1758.8 2594L1792.3 2592.5M1792.3 2592.5L1825.7 2612.3M1825.7 2612.3L1867.6 2601.4M1867.6 2601.4L1909.4 2604.2M1909.4 2604.2L1942.9 2600.9M1942.9 2600.9L1976.3 2588.5M1976.3 2588.5L2009.8 2589.5M2009.8 2589.5L2034.9 2588.5M2034.9 2588.5L2068.4 2618.7M2068.4 2618.7L2093.5 2593.8M2093.5 2593.8L2126.9 2615.1M2126.9 2615.1L2160.4 2591.7M2160.4 2591.7L2193.9 2600.5M2193.9 2600.5L2227.3 2599.2M2227.3 2599.2L2260.8 2610.6M2260.8 2610.6L2294.3 2607.6M2294.3 2607.6L2327.7 2595M2327.7 2595L2361.2 2590.9M2361.2 2590.9L2394.7 2597.2M2394.7 2597.2L2436.5 2589.7M2436.5 2589.7L2478.3 2591.8" stroke="#000" stroke-width="3.0" fill="none" stroke-linecap="round"/>
<g fill="#000"><polygon points="481.8,2802 509,2802 495.4,2825.6"/><polygon points="506.9,2786.7 534.1,2786.7 520.5,2810.3"/><polygon points="540.3,2794.8 567.5,2794.8 553.9,2818.4"/><polygon points="573.8,2783.7 601,2783.7 587.4,2807.3"/><polygon points="598.9,2800.1 626.1,2800.1 612.5,2823.7"/><polygon points="632.4,2798.6 659.6,2798.6 646,2822.2"/><polygon points="657.5,2783 684.7,2783 671.1,2806.6"/><polygon points="682.6,2773.4 709.8,2773.4 696.2,2797"/><polygon points="724.4,2780.9 751.6,2780.9 738,2804.5"/><polygon points="766.2,2768.1 793.4,2768.1 779.8,2791.7"/><polygon points="799.7,2800.1 826.9,2800.1 813.3,2823.7"/><polygon points="833.2,2758.5 860.4,2758.5 846.8,2782.1"/><polygon points="875,2773.4 902.2,2773.4 888.6,2797"/><polygon points="908.5,2750 935.7,2750 922.1,2773.6"/><polygon points="942,2701 969.2,2701 955.6,2724.6"/><polygon points="975.4,2680.7 1002.6,2680.7 989,2704.3"/><polygon points="1008.9,2680.7 1036.1,2680.7 1022.5,2704.3"/><polygon points="1050.7,2655.2 1077.9,2655.2 1064.3,2678.8"/><polygon points="1075.8,2649.8 1103,2649.8 1089.4,2673.4"/><polygon points="1109.3,2645.2 1136.5,2645.2 1122.9,2668.8"/><polygon points="1142.8,2617.2 1170,2617.2 1156.4,2640.8"/><polygon points="1176.2,2642.7 1203.4,2642.7 1189.8,2666.3"/><polygon points="1218.1,2627.2 1245.3,2627.2 1231.7,2650.8"/><polygon points="1259.9,2638 1287.1,2638 1273.5,2661.6"/><polygon points="1293.4,2627.2 1320.6,2627.2 1307,2650.8"/><polygon points="1335.2,2610.8 1362.4,2610.8 1348.8,2634.4"/><polygon points="1368.7,2602.5 1395.9,2602.5 1382.3,2626.1"/><polygon points="1402.1,2610.8 1429.3,2610.8 1415.7,2634.4"/><polygon points="1435.6,2624.7 1462.8,2624.7 1449.2,2648.3"/><polygon points="1460.7,2580.1 1487.9,2580.1 1474.3,2603.7"/><polygon points="1494.2,2600.2 1521.4,2600.2 1507.8,2623.8"/><polygon points="1527.6,2592.3 1554.8,2592.3 1541.2,2615.9"/><polygon points="1561.1,2610.2 1588.3,2610.2 1574.7,2633.8"/><polygon points="1602.9,2588.2 1630.1,2588.2 1616.5,2611.8"/><polygon points="1636.4,2587.2 1663.6,2587.2 1650,2610.8"/><polygon points="1669.9,2596.3 1697.1,2596.3 1683.5,2619.9"/><polygon points="1711.7,2592 1738.9,2592 1725.3,2615.6"/><polygon points="1745.2,2586.1 1772.4,2586.1 1758.8,2609.7"/><polygon points="1778.7,2584.6 1805.9,2584.6 1792.3,2608.2"/><polygon points="1812.1,2604.4 1839.3,2604.4 1825.7,2628"/><polygon points="1854,2593.5 1881.2,2593.5 1867.6,2617.1"/><polygon points="1895.8,2596.3 1923,2596.3 1909.4,2619.9"/><polygon points="1929.3,2593 1956.5,2593 1942.9,2616.6"/><polygon points="1962.7,2580.6 1989.9,2580.6 1976.3,2604.2"/><polygon points="1996.2,2581.6 2023.4,2581.6 2009.8,2605.2"/><polygon points="2021.3,2580.6 2048.5,2580.6 2034.9,2604.2"/><polygon points="2054.8,2610.8 2082,2610.8 2068.4,2634.4"/><polygon points="2079.9,2585.9 2107.1,2585.9 2093.5,2609.5"/><polygon points="2113.3,2607.2 2140.5,2607.2 2126.9,2630.8"/><polygon points="2146.8,2583.8 2174,2583.8 2160.4,2607.4"/><polygon points="2180.3,2592.6 2207.5,2592.6 2193.9,2616.2"/><polygon points="2213.7,2591.3 2240.9,2591.3 2227.3,2614.9"/><polygon points="2247.2,2602.7 2274.4,2602.7 2260.8,2626.3"/><polygon points="2280.7,2599.7 2307.9,2599.7 2294.3,2623.3"/><polygon points="2314.1,2587.1 2341.3,2587.1 2327.7,2610.7"/><polygon points="2347.6,2583 2374.8,2583 2361.2,2606.6"/><polygon points="2381.1,2589.3 2408.3,2589.3 2394.7,2612.9"/><polygon points="2422.9,2581.8 2450.1,2581.8 2436.5,2605.4"/><polygon points="2464.7,2583.9 2491.9,2583.9 2478.3,2607.5"/></g>
<path d="M535.6 2689.5L538.8 2687.6M563.3 2663.5L578.1 2639.6M589.7 2642.2L610.2 2799.8M617.6 2800.4L640.9 2722.2M681.5 2674.5L685.7 2668.7M707.6 2667.9L726.6 2690.6M754 2696.5L763.8 2691.9M789.2 2699.3L804 2723M828.6 2729.1L831.5 2727.5M859.7 2706.4L875.7 2691.3M970.8 2693.4L973.8 2695.3M993.2 2687.1L1018.3 2582.9M1034 2552.2L1052.8 2530.1M1070.4 2533.2L1083.3 2568.6M1105.7 2578.2L1106.6 2577.8M1125.1 2588.4L1154.1 2818.7M1162.1 2819.5L1184.1 2754.9M1196.5 2721.7L1225 2651.3M1239.2 2618.9L1266 2562M1281.2 2562L1299.3 2599.8M1322.1 2606.6L1333.7 2599.4M1386.7 2602.4L1411.3 2696.7M1429 2702L1436 2695.8M1488.5 2699.6L1493.5 2703.3M1520.1 2726.5L1529 2735.8M1556.6 2757.3L1559.4 2759M1591.4 2773.7L1599.9 2776.7M1621.2 2765.5L1645.4 2676.8M1662.3 2647L1671.2 2637.7M1697.1 2636.3L1711.7 2648.2M1736.8 2646L1747.3 2633.8M1773.2 2610L1777.8 2606.7M1800.1 2612.3L1817.9 2648.3M1838.6 2652.1L1854.6 2637.1M1873.5 2641.7L1903.5 2726.4M1924.6 2734.1L1927.6 2732.4M1955.2 2736.1L1964 2745.3M1989.6 2746.3L1996.5 2740.4M2013.5 2746L2031.2 2829.7M2042.7 2862.9L2060.6 2899.3M2071.8 2897.8L2090 2805.1M2100.8 2771.6L2119.6 2730M2131.6 2731L2155.8 2819.9M2162.6 2819.4L2191.7 2586.4M2202.9 2584L2218.3 2610.3M2277.1 2622.5L2278 2622.9M2304.2 2615.3L2317.8 2595.4M2332.8 2597.8L2356.2 2676.8M2370.5 2678.7L2385.4 2654.8M2403 2655.3L2428.2 2703M2448.6 2705.7L2466.2 2687.1" stroke="#000" stroke-width="3.0" fill="none" stroke-linecap="round"/>
<g fill="#000"><polygon points="511.1,2719 487.5,2705.4 487.5,2732.6"/><polygon points="536.2,2698.6 512.6,2685 512.6,2712.2"/><polygon points="569.7,2678.5 546.1,2664.9 546.1,2692.1"/><polygon points="603.1,2624.6 579.5,2611 579.5,2638.2"/><polygon points="628.2,2817.4 604.6,2803.8 604.6,2831"/><polygon points="661.7,2705.2 638.1,2691.6 638.1,2718.8"/><polygon points="686.8,2688.8 663.2,2675.2 663.2,2702.4"/><polygon points="711.9,2654.4 688.3,2640.8 688.3,2668"/><polygon points="753.7,2704.1 730.1,2690.5 730.1,2717.7"/><polygon points="795.6,2684.3 772,2670.7 772,2697.9"/><polygon points="829,2738 805.4,2724.4 805.4,2751.6"/><polygon points="862.5,2718.6 838.9,2705 838.9,2732.2"/><polygon points="904.3,2679.1 880.7,2665.5 880.7,2692.7"/><polygon points="937.8,2684.4 914.2,2670.8 914.2,2698"/><polygon points="971.3,2684.4 947.7,2670.8 947.7,2698"/><polygon points="1004.8,2704.3 981.2,2690.7 981.2,2717.9"/><polygon points="1038.2,2565.7 1014.6,2552.1 1014.6,2579.3"/><polygon points="1080.1,2516.6 1056.5,2503 1056.5,2530.2"/><polygon points="1105.2,2585.2 1081.6,2571.6 1081.6,2598.8"/><polygon points="1138.6,2570.8 1115,2557.2 1115,2584.4"/><polygon points="1172.1,2836.3 1148.5,2822.7 1148.5,2849.9"/><polygon points="1205.6,2738.1 1182,2724.5 1182,2751.7"/><polygon points="1247.4,2634.9 1223.8,2621.3 1223.8,2648.5"/><polygon points="1289.2,2546 1265.6,2532.4 1265.6,2559.6"/><polygon points="1322.7,2615.8 1299.1,2602.2 1299.1,2629.4"/><polygon points="1364.5,2590.2 1340.9,2576.6 1340.9,2603.8"/><polygon points="1398,2585.3 1374.4,2571.7 1374.4,2598.9"/><polygon points="1431.5,2713.8 1407.9,2700.2 1407.9,2727.4"/><polygon points="1464.9,2684 1441.3,2670.4 1441.3,2697.6"/><polygon points="1490,2689.1 1466.4,2675.5 1466.4,2702.7"/><polygon points="1523.5,2713.8 1499.9,2700.2 1499.9,2727.4"/><polygon points="1557,2748.5 1533.4,2734.9 1533.4,2762.1"/><polygon points="1590.4,2767.8 1566.8,2754.2 1566.8,2781.4"/><polygon points="1632.3,2782.6 1608.7,2769 1608.7,2796.2"/><polygon points="1665.7,2659.7 1642.1,2646.1 1642.1,2673.3"/><polygon points="1699.2,2625 1675.6,2611.4 1675.6,2638.6"/><polygon points="1741,2659.5 1717.4,2645.9 1717.4,2673.1"/><polygon points="1774.5,2620.3 1750.9,2606.7 1750.9,2633.9"/><polygon points="1808,2596.4 1784.4,2582.8 1784.4,2610"/><polygon points="1841.5,2664.2 1817.9,2650.6 1817.9,2677.8"/><polygon points="1883.3,2625 1859.7,2611.4 1859.7,2638.6"/><polygon points="1925.1,2743.1 1901.5,2729.5 1901.5,2756.7"/><polygon points="1958.6,2723.4 1935,2709.8 1935,2737"/><polygon points="1992.1,2758 1968.5,2744.4 1968.5,2771.6"/><polygon points="2025.5,2728.7 2001.9,2715.1 2001.9,2742.3"/><polygon points="2050.6,2847 2027,2833.4 2027,2860.6"/><polygon points="2084.1,2915.2 2060.5,2901.6 2060.5,2928.8"/><polygon points="2109.2,2787.7 2085.6,2774.1 2085.6,2801.3"/><polygon points="2142.7,2713.9 2119.1,2700.3 2119.1,2727.5"/><polygon points="2176.1,2837 2152.5,2823.4 2152.5,2850.6"/><polygon points="2209.6,2568.8 2186,2555.2 2186,2582.4"/><polygon points="2243.1,2625.5 2219.5,2611.9 2219.5,2639.1"/><polygon points="2276.5,2615.5 2252.9,2601.9 2252.9,2629.1"/><polygon points="2310,2629.9 2286.4,2616.3 2286.4,2643.5"/><polygon points="2343.5,2580.8 2319.9,2567.2 2319.9,2594.4"/><polygon points="2376.9,2693.8 2353.3,2680.2 2353.3,2707.4"/><polygon points="2410.4,2639.7 2386.8,2626.1 2386.8,2653.3"/><polygon points="2452.2,2718.6 2428.6,2705 2428.6,2732.2"/><polygon points="2494.1,2674.2 2470.5,2660.6 2470.5,2687.8"/></g>
<path d="M536.5 2941.6L537.9 2942.2M595.8 2946.5L604.1 2931.3M626 2927.1L632.5 2932.6M656.3 2958.3L660.7 2964.4M682.1 2992.5L685.1 2996.3M712.9 3004.4L721.3 3001.5M755.7 2994.9L762.2 2994.6M863.8 3013L871.6 3015.4M902.5 3009.4L908.2 3005M1040 3009.4L1046.8 3008.4M1206.3 3004.6L1215.2 3001.2M1248.4 3000.5L1256.7 3003.2M1288.9 3000.1L1291.6 2998.5M1324.7 2989.3L1331.1 2989.2M1431.1 2992.9L1433.9 2994.5M1591.7 2989.8L1599.6 2987.6M1632 2991.2L1634.5 2992.5M1701.1 2990.7L1707.6 2990.4M1843.4 2988.1L1849.9 2987.7M1885.2 2985.8L1891.7 2985.5M1921.2 2971.6L1931 2960.8M1988.1 2938.4L1998 2927.4M2050.5 2891.7L2052.7 2890.6M2080.5 2895.2L2081.3 2896.1M2101.1 2925L2119.3 2963.4M2412.3 2989.2L2418.8 2988.9M2454 2985.4L2460.8 2984.4" stroke="#000" stroke-width="3.0" fill="none" stroke-linecap="round"/>
<g fill="#000"><polygon points="495.4,2909.8 510.4,2924.8 495.4,2939.8 480.4,2924.8"/><polygon points="520.5,2919 535.5,2934 520.5,2949 505.5,2934"/><polygon points="553.9,2934.8 568.9,2949.8 553.9,2964.8 538.9,2949.8"/><polygon points="587.4,2947.1 602.4,2962.1 587.4,2977.1 572.4,2962.1"/><polygon points="612.5,2900.7 627.5,2915.7 612.5,2930.7 597.5,2915.7"/><polygon points="646,2929 661,2944 646,2959 631,2944"/><polygon points="671.1,2963.7 686.1,2978.7 671.1,2993.7 656.1,2978.7"/><polygon points="696.2,2995.1 711.2,3010.1 696.2,3025.1 681.2,3010.1"/><polygon points="738,2980.8 753,2995.8 738,3010.8 723,2995.8"/><polygon points="779.8,2978.7 794.8,2993.7 779.8,3008.7 764.8,2993.7"/><polygon points="813.3,2988.3 828.3,3003.3 813.3,3018.3 798.3,3003.3"/><polygon points="846.8,2993 861.8,3008 846.8,3023 831.8,3008"/><polygon points="888.6,3005.4 903.6,3020.4 888.6,3035.4 873.6,3020.4"/><polygon points="922.1,2979 937.1,2994 922.1,3009 907.1,2994"/><polygon points="955.6,2988.3 970.6,3003.3 955.6,3018.3 940.6,3003.3"/><polygon points="989,2992.6 1004,3007.6 989,3022.6 974,3007.6"/><polygon points="1022.5,2996.9 1037.5,3011.9 1022.5,3026.9 1007.5,3011.9"/><polygon points="1064.3,2990.9 1079.3,3005.9 1064.3,3020.9 1049.3,3005.9"/><polygon points="1089.4,2995.1 1104.4,3010.1 1089.4,3025.1 1074.4,3010.1"/><polygon points="1122.9,3000.3 1137.9,3015.3 1122.9,3030.3 1107.9,3015.3"/><polygon points="1156.4,2988.3 1171.4,3003.3 1156.4,3018.3 1141.4,3003.3"/><polygon points="1189.8,2996 1204.8,3011 1189.8,3026 1174.8,3011"/><polygon points="1231.7,2979.8 1246.7,2994.8 1231.7,3009.8 1216.7,2994.8"/><polygon points="1273.5,2993.9 1288.5,3008.9 1273.5,3023.9 1258.5,3008.9"/><polygon points="1307,2974.7 1322,2989.7 1307,3004.7 1292,2989.7"/><polygon points="1348.8,2973.8 1363.8,2988.8 1348.8,3003.8 1333.8,2988.8"/><polygon points="1382.3,2975.5 1397.3,2990.5 1382.3,3005.5 1367.3,2990.5"/><polygon points="1415.7,2969.1 1430.7,2984.1 1415.7,2999.1 1400.7,2984.1"/><polygon points="1449.2,2988.3 1464.2,3003.3 1449.2,3018.3 1434.2,3003.3"/><polygon points="1474.3,2981.9 1489.3,2996.9 1474.3,3011.9 1459.3,2996.9"/><polygon points="1507.8,2969.1 1522.8,2984.1 1507.8,2999.1 1492.8,2984.1"/><polygon points="1541.2,2976.8 1556.2,2991.8 1541.2,3006.8 1526.2,2991.8"/><polygon points="1574.7,2979.8 1589.7,2994.8 1574.7,3009.8 1559.7,2994.8"/><polygon points="1616.5,2967.6 1631.5,2982.6 1616.5,2997.6 1601.5,2982.6"/><polygon points="1650,2986.1 1665,3001.1 1650,3016.1 1635,3001.1"/><polygon points="1683.5,2976.8 1698.5,2991.8 1683.5,3006.8 1668.5,2991.8"/><polygon points="1725.3,2974.3 1740.3,2989.3 1725.3,3004.3 1710.3,2989.3"/><polygon points="1758.8,2969.4 1773.8,2984.4 1758.8,2999.4 1743.8,2984.4"/><polygon points="1792.3,2971.4 1807.3,2986.4 1792.3,3001.4 1777.3,2986.4"/><polygon points="1825.7,2974.3 1840.7,2989.3 1825.7,3004.3 1810.7,2989.3"/><polygon points="1867.6,2971.5 1882.6,2986.5 1867.6,3001.5 1852.6,2986.5"/><polygon points="1909.4,2969.8 1924.4,2984.8 1909.4,2999.8 1894.4,2984.8"/><polygon points="1942.9,2932.6 1957.9,2947.6 1942.9,2962.6 1927.9,2947.6"/><polygon points="1976.3,2936.6 1991.3,2951.6 1976.3,2966.6 1961.3,2951.6"/><polygon points="2009.8,2899.2 2024.8,2914.2 2009.8,2929.2 1994.8,2914.2"/><polygon points="2034.9,2885 2049.9,2900 2034.9,2915 2019.9,2900"/><polygon points="2068.4,2867.3 2083.4,2882.3 2068.4,2897.3 2053.4,2882.3"/><polygon points="2093.5,2894 2108.5,2909 2093.5,2924 2078.5,2909"/><polygon points="2126.9,2964.4 2141.9,2979.4 2126.9,2994.4 2111.9,2979.4"/><polygon points="2160.4,2962.5 2175.4,2977.5 2160.4,2992.5 2145.4,2977.5"/><polygon points="2193.9,2968.2 2208.9,2983.2 2193.9,2998.2 2178.9,2983.2"/><polygon points="2227.3,2973 2242.3,2988 2227.3,3003 2212.3,2988"/><polygon points="2260.8,2968.9 2275.8,2983.9 2260.8,2998.9 2245.8,2983.9"/><polygon points="2294.3,2976.8 2309.3,2991.8 2294.3,3006.8 2279.3,2991.8"/><polygon points="2327.7,2971.9 2342.7,2986.9 2327.7,3001.9 2312.7,2986.9"/><polygon points="2361.2,2969.4 2376.2,2984.4 2361.2,2999.4 2346.2,2984.4"/><polygon points="2394.7,2975.3 2409.7,2990.3 2394.7,3005.3 2379.7,2990.3"/><polygon points="2436.5,2972.8 2451.5,2987.8 2436.5,3002.8 2421.5,2987.8"/><polygon points="2478.3,2967 2493.3,2982 2478.3,2997 2463.3,2982"/></g>
<line x1="1966.3" y1="415.6" x2="2096.7" y2="415.6" stroke="#000" stroke-width="3.8"/>
<g fill="#000"><polygon points="2031.5,399.9 2017.9,423.5 2045.1,423.5"/></g>
<text x="2108" y="421" text-anchor="start" font-size="52"><tspan dy="5">进水</tspan><tspan dy="-5">COD</tspan></text>
<line x1="1968" y1="485.8" x2="2017.1" y2="485.8" stroke="#000" stroke-width="3.8"/>
<line x1="2045.9" y1="485.8" x2="2095" y2="485.8" stroke="#000" stroke-width="3.8"/>
<g fill="#000"><polygon points="2017.9,477.9 2045.1,477.9 2031.5,501.5"/></g>
<text x="2108" y="496" text-anchor="start" font-size="52"><tspan dy="5">出水</tspan><tspan dy="-5">COD</tspan></text>
<line x1="1968" y1="554.6" x2="2017.1" y2="554.6" stroke="#000" stroke-width="3.8"/>
<line x1="2045.9" y1="554.6" x2="2095" y2="554.6" stroke="#000" stroke-width="3.8"/>
<g fill="#000"><polygon points="2031.5,539.6 2046.5,554.6 2031.5,569.6 2016.5,554.6"/></g>
<text x="2108" y="574" text-anchor="start" font-size="52"><tspan>COD</tspan><tspan dy="5">去除率</tspan></text>
<line x1="1968" y1="624.9" x2="2017.1" y2="624.9" stroke="#000" stroke-width="3.8"/>
<line x1="2045.9" y1="624.9" x2="2095" y2="624.9" stroke="#000" stroke-width="3.8"/>
<g fill="#000"><circle cx="2031.5" cy="624.9" r="11.8"/></g>
<text x="2108" y="643" text-anchor="start" font-size="52"><tspan>OLR</tspan></text>
<line x1="1067.5" y1="1247" x2="1196.7" y2="1247" stroke="#000" stroke-width="3.8"/>
<g fill="#000"><polygon points="1131.6,1231.3 1118,1254.9 1145.2,1254.9"/></g>
<text x="1208.3" y="1270.5" text-anchor="start" font-size="52">产气量</text>
<line x1="1436.3" y1="1247" x2="1485.1" y2="1247" stroke="#000" stroke-width="3.8"/>
<line x1="1513.9" y1="1247" x2="1562.3" y2="1247" stroke="#000" stroke-width="3.8"/>
<g fill="#000"><polygon points="1485.9,1239.1 1513.1,1239.1 1499.5,1262.7"/></g>
<text x="1575" y="1265" text-anchor="start" font-size="52"><tspan>CH</tspan><tspan dy="17" dx="2" font-size="20">4</tspan><tspan dy="-12" dx="4.3">组分占比</tspan></text>
<line x1="1979.3" y1="1247" x2="2028.5" y2="1247" stroke="#000" stroke-width="3.8"/>
<line x1="2057.3" y1="1247" x2="2105.6" y2="1247" stroke="#000" stroke-width="3.8"/>
<g fill="#000"><polygon points="2042.9,1232 2057.9,1247 2042.9,1262 2027.9,1247"/></g>
<text x="2118.6" y="1265" text-anchor="start" font-size="52"><tspan>CO</tspan><tspan dy="17" dx="2.5" font-size="20">2</tspan><tspan dy="-12" dx="4.3">组分占比</tspan></text>
<line x1="934.5" y1="2345" x2="984.7" y2="2345" stroke="#000" stroke-width="3.8"/>
<line x1="1013.5" y1="2345" x2="1064.9" y2="2345" stroke="#000" stroke-width="3.8"/>
<g fill="#000"><polygon points="999.1,2329.3 985.5,2352.9 1012.7,2352.9"/></g>
<text x="1078" y="2363.5" text-anchor="start" font-size="52"><tspan dy="5">进水</tspan><tspan dy="-5">TA</tspan></text>
<line x1="1263.4" y1="2345" x2="1310.1" y2="2345" stroke="#000" stroke-width="3.8"/>
<line x1="1338.9" y1="2345" x2="1391" y2="2345" stroke="#000" stroke-width="3.8"/>
<g fill="#000"><polygon points="1312.7,2345 1336.3,2331.4 1336.3,2358.6"/></g>
<text x="1403.5" y="2363.5" text-anchor="start" font-size="52"><tspan dy="5">进水</tspan><tspan dy="-5">pH</tspan></text>
<line x1="934.5" y1="2414.7" x2="1064.9" y2="2414.7" stroke="#000" stroke-width="3.8"/>
<g fill="#000"><polygon points="985.5,2406.8 1012.7,2406.8 999.1,2430.4"/></g>
<text x="1078" y="2433.2" text-anchor="start" font-size="52"><tspan dy="5">出水</tspan><tspan dy="-5">TA</tspan></text>
<line x1="1263.4" y1="2414.7" x2="1315.9" y2="2414.7" stroke="#000" stroke-width="3.8"/>
<line x1="1344.7" y1="2414.7" x2="1391" y2="2414.7" stroke="#000" stroke-width="3.8"/>
<g fill="#000"><polygon points="1342.1,2414.7 1318.5,2401.1 1318.5,2428.3"/></g>
<text x="1403.5" y="2433.2" text-anchor="start" font-size="52"><tspan dy="5">出水</tspan><tspan dy="-5">pH</tspan></text>
<line x1="934.5" y1="2483.8" x2="984.7" y2="2483.8" stroke="#000" stroke-width="3.8"/>
<line x1="1013.5" y1="2483.8" x2="1064.9" y2="2483.8" stroke="#000" stroke-width="3.8"/>
<g fill="#000"><polygon points="999.1,2468.8 1014.1,2483.8 999.1,2498.8 984.1,2483.8"/></g>
<text x="1078" y="2502.3" text-anchor="start" font-size="52"><tspan>TVFA</tspan></text>
<text x="1401" y="961.4" text-anchor="start" font-size="52"><tspan dy="5">时间</tspan><tspan dy="-5">/d</tspan></text>
<text x="1415.4" y="2074" text-anchor="start" font-size="52"><tspan dy="5">时间</tspan><tspan dy="-5">/d</tspan></text>
<text x="1399.8" y="3179.4" text-anchor="start" font-size="52"><tspan dy="5">时间</tspan><tspan dy="-5">/d</tspan></text>
<text y="1045.5" font-size="52"><tspan x="1247.6"><tspan>(</tspan></tspan><tspan x="1270"><tspan>a</tspan></tspan><tspan x="1298.7"><tspan>)</tspan></tspan><tspan x="1332.3"><tspan>COD</tspan><tspan dy="5">去除率变化</tspan></tspan></text>
<text y="2149" font-size="52"><tspan x="1323.6"><tspan>(</tspan></tspan><tspan x="1346.9"><tspan>b</tspan></tspan><tspan x="1375.8"><tspan>)</tspan></tspan><tspan x="1409.9"><tspan dy="5">产气量变化</tspan></tspan></text>
<text y="3268.5" font-size="52"><tspan x="1176.1"><tspan>(</tspan></tspan><tspan x="1199.7"><tspan>c</tspan></tspan><tspan x="1228.6"><tspan>)</tspan></tspan><tspan x="1264.1"><tspan>TA</tspan><tspan dy="5">、</tspan></tspan><tspan x="1360"><tspan>pH</tspan><tspan dy="5">和</tspan><tspan dy="-5">TVFA</tspan><tspan dy="5">浓度变化</tspan></tspan></text>
<text transform="translate(359 417) rotate(-90)" text-anchor="middle" font-size="52"><tspan>COD/(g </tspan><tspan dy="6" dx="3" font-size="70">·</tspan><tspan dy="-6" dx="2"> L</tspan><tspan dy="-19" font-size="30">−1</tspan><tspan dy="19">)</tspan></text>
<text transform="translate(2650.5 466) rotate(-90)" text-anchor="middle" font-size="52"><tspan>COD</tspan><tspan dy="5">去除率</tspan><tspan dy="-5">/%</tspan></text>
<text transform="translate(2908 438) rotate(-90)" text-anchor="middle" font-size="52"><tspan>OLR/(g </tspan><tspan dy="6" font-size="70">·</tspan><tspan dy="-6" dx="4"> (L </tspan><tspan dy="6" dx="-2.5" font-size="70">·</tspan><tspan dy="-6" dx="-7"> d)</tspan><tspan dy="-19" font-size="30">−1</tspan><tspan dy="19">)</tspan></text>
<text transform="translate(365 1546.5) rotate(-90)" text-anchor="middle" font-size="52"><tspan dy="5">产气量</tspan><tspan dy="-5">/(L </tspan><tspan dy="6" dx="3" font-size="70">·</tspan><tspan dy="-6" dx="2"> (L </tspan><tspan dy="6" dx="3" font-size="70">·</tspan><tspan dy="-6" dx="2"> d)</tspan><tspan dy="-19" font-size="30">−1</tspan><tspan dy="19">)</tspan></text>
<text transform="translate(2663.3 1552) rotate(-90)" text-anchor="middle" font-size="52"><tspan dy="5">组分占比</tspan><tspan dy="-5">/%</tspan></text>
<text transform="translate(285 2653) rotate(-90)" text-anchor="middle" font-size="52"><tspan dy="5">质量浓度</tspan><tspan dy="-5">/(mg </tspan><tspan dy="6" dx="3" font-size="70">·</tspan><tspan dy="-6" dx="2"> L</tspan><tspan dy="-19" font-size="30">−1</tspan><tspan dy="19">)</tspan></text>
<text transform="translate(2668.4 2672) rotate(-90)" text-anchor="middle" font-size="52">pH</text>
</svg>
</body></html>
